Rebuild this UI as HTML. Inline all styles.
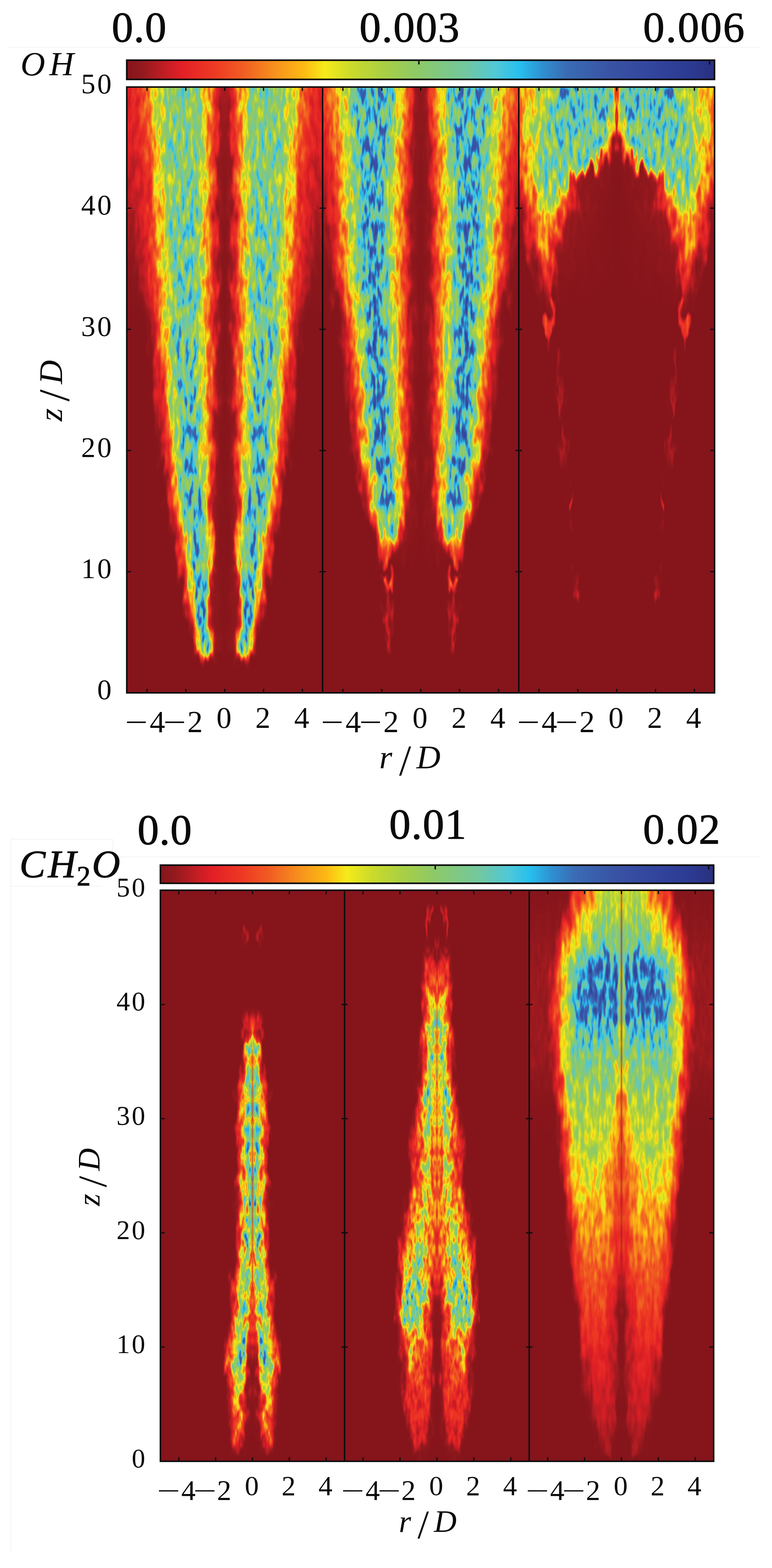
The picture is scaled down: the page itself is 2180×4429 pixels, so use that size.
<!DOCTYPE html>
<html lang="en"><head><meta charset="utf-8"><title>OH and CH2O contours</title>
<style>html,body{margin:0;padding:0;background:#fff}body{width:2180px;height:4429px;overflow:hidden}svg{display:block}text{font-family:"Liberation Serif","DejaVu Serif",serif;fill:#0a0a0a}.cb{stroke:#0a0a0a;stroke-width:1.6px}.cb{font-size:121px}.tk{font-size:80px}.it{font-style:italic}</style></head><body>
<svg width="2180" height="4429" viewBox="0 0 2180 4429">
<defs>
<linearGradient id="cbg" x1="0" x2="1" y1="0" y2="0"><stop offset="0.000" stop-color="#85151b"/><stop offset="0.025" stop-color="#92191e"/><stop offset="0.055" stop-color="#b61d23"/><stop offset="0.093" stop-color="#e21f26"/><stop offset="0.150" stop-color="#ee3a24"/><stop offset="0.194" stop-color="#f05a22"/><stop offset="0.255" stop-color="#f7941d"/><stop offset="0.300" stop-color="#fdb913"/><stop offset="0.337" stop-color="#f5eb1a"/><stop offset="0.382" stop-color="#cbdb2a"/><stop offset="0.439" stop-color="#a8cf45"/><stop offset="0.496" stop-color="#8dc968"/><stop offset="0.577" stop-color="#72c8a0"/><stop offset="0.630" stop-color="#4fc8d8"/><stop offset="0.667" stop-color="#27c0ee"/><stop offset="0.708" stop-color="#2f8fd0"/><stop offset="0.748" stop-color="#3a6cb5"/><stop offset="0.822" stop-color="#3953a4"/><stop offset="0.903" stop-color="#32439c"/><stop offset="0.965" stop-color="#2b3990"/><stop offset="1.000" stop-color="#2a2f7e"/></linearGradient>
<filter id="sb" x="-300%" width="700%" y="-5%" height="110%"><feGaussianBlur stdDeviation="1.6 14"/></filter>
<linearGradient id="lga" gradientUnits="userSpaceOnUse" x1="80.0" x2="522.4" y1="0" y2="0" spreadMethod="reflect"/>
<filter id="fa" filterUnits="userSpaceOnUse" x="-80" y="-80" width="713" height="1871" color-interpolation-filters="sRGB"><feGaussianBlur in="SourceGraphic" stdDeviation="4 12" result="F"/><feTurbulence type="fractalNoise" baseFrequency="0.05 0.013" numOctaves="2" seed="23" result="U"/><feColorMatrix in="U" type="matrix" values="0.3 0 0 0 0.35  0 1 0 0 0  0 0 1 0 0  0 0 0 0 1" result="V"/><feDisplacementMap in="F" in2="V" scale="120" xChannelSelector="R" yChannelSelector="G" result="D"/><feTurbulence type="fractalNoise" baseFrequency="0.085 0.021" numOctaves="2" seed="3" result="T"/><feColorMatrix in="T" type="matrix" values="2.4 0 0 0 -0.7  2.4 0 0 0 -0.7  2.4 0 0 0 -0.7  0 0 0 0 1" result="N"/><feComposite in="D" in2="N" operator="arithmetic" k1="0.55" k2="0.725" k3="0" k4="0" result="G"/><feComponentTransfer in="G"><feFuncR type="table" tableValues="0.522 0.565 0.655 0.754 0.850 0.897 0.915 0.932 0.937 0.941 0.950 0.959 0.969 0.980 0.991 0.976 0.948 0.870 0.794 0.742 0.691 0.644 0.605 0.565 0.534 0.506 0.478 0.450 0.399 0.343 0.275 0.184 0.164 0.180 0.201 0.224 0.226 0.225 0.224 0.221 0.214 0.206 0.199 0.191 0.181 0.172 0.167 0.165"/><feFuncG type="table" tableValues="0.082 0.096 0.107 0.116 0.120 0.146 0.186 0.225 0.285 0.346 0.423 0.502 0.581 0.650 0.719 0.827 0.917 0.887 0.858 0.840 0.823 0.809 0.800 0.791 0.788 0.786 0.785 0.784 0.784 0.784 0.777 0.759 0.688 0.588 0.508 0.435 0.400 0.372 0.343 0.319 0.303 0.286 0.270 0.255 0.242 0.228 0.208 0.184"/><feFuncB type="table" tableValues="0.106 0.116 0.129 0.140 0.147 0.147 0.144 0.141 0.138 0.134 0.127 0.120 0.113 0.095 0.076 0.089 0.107 0.136 0.167 0.206 0.246 0.289 0.341 0.392 0.448 0.505 0.563 0.621 0.705 0.793 0.866 0.916 0.894 0.833 0.775 0.719 0.694 0.674 0.655 0.640 0.632 0.624 0.615 0.603 0.587 0.570 0.537 0.494"/></feComponentTransfer></filter>
<clipPath id="ca"><rect x="276.0" y="0" width="277.5" height="1711.2"/></clipPath>
<linearGradient id="a0" href="#lga"><stop offset="0" stop-color="#000000"/><stop offset="0.099" stop-color="#010101"/><stop offset="0.113" stop-color="#0b0b0b"/><stop offset="0.121" stop-color="#141414"/><stop offset="0.129" stop-color="#141414"/><stop offset="0.138" stop-color="#0b0b0b"/><stop offset="0.151" stop-color="#040404"/><stop offset="0.17" stop-color="#000000"/><stop offset="1" stop-color="#000000"/></linearGradient>
<linearGradient id="a1" href="#lga"><stop offset="0" stop-color="#000000"/><stop offset="0.089" stop-color="#080808"/><stop offset="0.11" stop-color="#575757"/><stop offset="0.121" stop-color="#a3a3a3"/><stop offset="0.132" stop-color="#a3a3a3"/><stop offset="0.146" stop-color="#575757"/><stop offset="0.162" stop-color="#1c1c1c"/><stop offset="0.182" stop-color="#000000"/><stop offset="1" stop-color="#000000"/></linearGradient>
<linearGradient id="a2" href="#lga"><stop offset="0" stop-color="#000000"/><stop offset="0.075" stop-color="#080808"/><stop offset="0.1" stop-color="#575757"/><stop offset="0.116" stop-color="#b2b2b2"/><stop offset="0.14" stop-color="#b2b2b2"/><stop offset="0.163" stop-color="#575757"/><stop offset="0.181" stop-color="#1c1c1c"/><stop offset="0.206" stop-color="#000000"/><stop offset="1" stop-color="#000000"/></linearGradient>
<linearGradient id="a3" href="#lga"><stop offset="0" stop-color="#000000"/><stop offset="0.08" stop-color="#080808"/><stop offset="0.107" stop-color="#575757"/><stop offset="0.126" stop-color="#b1b1b1"/><stop offset="0.153" stop-color="#b1b1b1"/><stop offset="0.176" stop-color="#575757"/><stop offset="0.197" stop-color="#1c1c1c"/><stop offset="0.225" stop-color="#000000"/><stop offset="1" stop-color="#000000"/></linearGradient>
<linearGradient id="a4" href="#lga"><stop offset="0" stop-color="#000000"/><stop offset="0.084" stop-color="#080808"/><stop offset="0.114" stop-color="#575757"/><stop offset="0.137" stop-color="#afafaf"/><stop offset="0.166" stop-color="#afafaf"/><stop offset="0.19" stop-color="#575757"/><stop offset="0.214" stop-color="#1c1c1c"/><stop offset="0.243" stop-color="#000000"/><stop offset="1" stop-color="#000000"/></linearGradient>
<linearGradient id="a5" href="#lga"><stop offset="0" stop-color="#000000"/><stop offset="0.09" stop-color="#080808"/><stop offset="0.12" stop-color="#575757"/><stop offset="0.145" stop-color="#adadad"/><stop offset="0.177" stop-color="#adadad"/><stop offset="0.203" stop-color="#575757"/><stop offset="0.228" stop-color="#1c1c1c"/><stop offset="0.259" stop-color="#000000"/><stop offset="1" stop-color="#000000"/></linearGradient>
<linearGradient id="a6" href="#lga"><stop offset="0" stop-color="#000000"/><stop offset="0.097" stop-color="#080808"/><stop offset="0.123" stop-color="#575757"/><stop offset="0.148" stop-color="#adadad"/><stop offset="0.184" stop-color="#adadad"/><stop offset="0.214" stop-color="#575757"/><stop offset="0.239" stop-color="#1c1c1c"/><stop offset="0.27" stop-color="#000000"/><stop offset="1" stop-color="#000000"/></linearGradient>
<linearGradient id="a7" href="#lga"><stop offset="0" stop-color="#000000"/><stop offset="0.083" stop-color="#080808"/><stop offset="0.111" stop-color="#575757"/><stop offset="0.148" stop-color="#ababab"/><stop offset="0.192" stop-color="#ababab"/><stop offset="0.224" stop-color="#575757"/><stop offset="0.251" stop-color="#1c1c1c"/><stop offset="0.285" stop-color="#000000"/><stop offset="1" stop-color="#000000"/></linearGradient>
<linearGradient id="a8" href="#lga"><stop offset="0" stop-color="#000000"/><stop offset="0.058" stop-color="#080808"/><stop offset="0.089" stop-color="#575757"/><stop offset="0.145" stop-color="#a8a8a8"/><stop offset="0.202" stop-color="#a8a8a8"/><stop offset="0.233" stop-color="#575757"/><stop offset="0.265" stop-color="#1c1c1c"/><stop offset="0.303" stop-color="#000000"/><stop offset="1" stop-color="#000000"/></linearGradient>
<linearGradient id="a9" href="#lga"><stop offset="0" stop-color="#000000"/><stop offset="0.066" stop-color="#080808"/><stop offset="0.097" stop-color="#575757"/><stop offset="0.15" stop-color="#a8a8a8"/><stop offset="0.209" stop-color="#a8a8a8"/><stop offset="0.244" stop-color="#575757"/><stop offset="0.278" stop-color="#1c1c1c"/><stop offset="0.316" stop-color="#000000"/><stop offset="1" stop-color="#000000"/></linearGradient>
<linearGradient id="a10" href="#lga"><stop offset="0" stop-color="#000000"/><stop offset="0.073" stop-color="#080808"/><stop offset="0.105" stop-color="#575757"/><stop offset="0.155" stop-color="#a8a8a8"/><stop offset="0.217" stop-color="#a8a8a8"/><stop offset="0.254" stop-color="#575757"/><stop offset="0.291" stop-color="#1c1c1c"/><stop offset="0.329" stop-color="#000000"/><stop offset="1" stop-color="#000000"/></linearGradient>
<linearGradient id="a11" href="#lga"><stop offset="0" stop-color="#000000"/><stop offset="0.074" stop-color="#080808"/><stop offset="0.109" stop-color="#575757"/><stop offset="0.16" stop-color="#a7a7a7"/><stop offset="0.225" stop-color="#a7a7a7"/><stop offset="0.265" stop-color="#575757"/><stop offset="0.304" stop-color="#1c1c1c"/><stop offset="0.343" stop-color="#000000"/><stop offset="1" stop-color="#000000"/></linearGradient>
<linearGradient id="a12" href="#lga"><stop offset="0" stop-color="#000000"/><stop offset="0.072" stop-color="#080808"/><stop offset="0.112" stop-color="#575757"/><stop offset="0.165" stop-color="#a6a6a6"/><stop offset="0.233" stop-color="#a6a6a6"/><stop offset="0.276" stop-color="#575757"/><stop offset="0.317" stop-color="#1c1c1c"/><stop offset="0.357" stop-color="#000000"/><stop offset="1" stop-color="#000000"/></linearGradient>
<linearGradient id="a13" href="#lga"><stop offset="0" stop-color="#000000"/><stop offset="0.071" stop-color="#080808"/><stop offset="0.115" stop-color="#575757"/><stop offset="0.17" stop-color="#a5a5a5"/><stop offset="0.241" stop-color="#a5a5a5"/><stop offset="0.288" stop-color="#575757"/><stop offset="0.33" stop-color="#1c1c1c"/><stop offset="0.372" stop-color="#000000"/><stop offset="1" stop-color="#000000"/></linearGradient>
<linearGradient id="a14" href="#lga"><stop offset="0" stop-color="#000000"/><stop offset="0.069" stop-color="#080808"/><stop offset="0.118" stop-color="#575757"/><stop offset="0.175" stop-color="#a3a3a3"/><stop offset="0.249" stop-color="#a3a3a3"/><stop offset="0.299" stop-color="#575757"/><stop offset="0.342" stop-color="#1c1c1c"/><stop offset="0.386" stop-color="#000000"/><stop offset="1" stop-color="#000000"/></linearGradient>
<linearGradient id="a15" href="#lga"><stop offset="0" stop-color="#000000"/><stop offset="0.067" stop-color="#080808"/><stop offset="0.12" stop-color="#575757"/><stop offset="0.177" stop-color="#a2a2a2"/><stop offset="0.255" stop-color="#a2a2a2"/><stop offset="0.306" stop-color="#575757"/><stop offset="0.35" stop-color="#1c1c1c"/><stop offset="0.396" stop-color="#000000"/><stop offset="1" stop-color="#000000"/></linearGradient>
<linearGradient id="a16" href="#lga"><stop offset="0" stop-color="#000000"/><stop offset="0.065" stop-color="#080808"/><stop offset="0.122" stop-color="#575757"/><stop offset="0.178" stop-color="#a0a0a0"/><stop offset="0.26" stop-color="#a0a0a0"/><stop offset="0.312" stop-color="#575757"/><stop offset="0.358" stop-color="#1c1c1c"/><stop offset="0.405" stop-color="#000000"/><stop offset="1" stop-color="#000000"/></linearGradient>
<linearGradient id="a17" href="#lga"><stop offset="0" stop-color="#000000"/><stop offset="0.063" stop-color="#080808"/><stop offset="0.124" stop-color="#575757"/><stop offset="0.18" stop-color="#9f9f9f"/><stop offset="0.266" stop-color="#9f9f9f"/><stop offset="0.319" stop-color="#575757"/><stop offset="0.365" stop-color="#1c1c1c"/><stop offset="0.414" stop-color="#000000"/><stop offset="1" stop-color="#000000"/></linearGradient>
<linearGradient id="a18" href="#lga"><stop offset="0" stop-color="#000000"/><stop offset="0.062" stop-color="#080808"/><stop offset="0.126" stop-color="#575757"/><stop offset="0.182" stop-color="#9d9d9d"/><stop offset="0.272" stop-color="#9d9d9d"/><stop offset="0.325" stop-color="#575757"/><stop offset="0.372" stop-color="#1c1c1c"/><stop offset="0.423" stop-color="#000000"/><stop offset="1" stop-color="#000000"/></linearGradient>
<linearGradient id="a19" href="#lga"><stop offset="0" stop-color="#000000"/><stop offset="0.06" stop-color="#080808"/><stop offset="0.128" stop-color="#575757"/><stop offset="0.184" stop-color="#9c9c9c"/><stop offset="0.277" stop-color="#9c9c9c"/><stop offset="0.332" stop-color="#575757"/><stop offset="0.38" stop-color="#1c1c1c"/><stop offset="0.433" stop-color="#000000"/><stop offset="1" stop-color="#000000"/></linearGradient>
<linearGradient id="a20" href="#lga"><stop offset="0" stop-color="#000000"/><stop offset="0.058" stop-color="#080808"/><stop offset="0.13" stop-color="#575757"/><stop offset="0.186" stop-color="#9a9a9a"/><stop offset="0.283" stop-color="#9a9a9a"/><stop offset="0.338" stop-color="#575757"/><stop offset="0.387" stop-color="#1c1c1c"/><stop offset="0.442" stop-color="#000000"/><stop offset="1" stop-color="#000000"/></linearGradient>
<linearGradient id="a21" href="#lga"><stop offset="0" stop-color="#000000"/><stop offset="0.056" stop-color="#080808"/><stop offset="0.131" stop-color="#575757"/><stop offset="0.188" stop-color="#999999"/><stop offset="0.288" stop-color="#999999"/><stop offset="0.344" stop-color="#575757"/><stop offset="0.394" stop-color="#1c1c1c"/><stop offset="0.451" stop-color="#000000"/><stop offset="1" stop-color="#000000"/></linearGradient>
<linearGradient id="a22" href="#lga"><stop offset="0" stop-color="#000000"/><stop offset="0.054" stop-color="#080808"/><stop offset="0.132" stop-color="#575757"/><stop offset="0.188" stop-color="#989898"/><stop offset="0.293" stop-color="#989898"/><stop offset="0.349" stop-color="#575757"/><stop offset="0.4" stop-color="#1c1c1c"/><stop offset="0.457" stop-color="#000000"/><stop offset="1" stop-color="#000000"/></linearGradient>
<linearGradient id="a23" href="#lga"><stop offset="0" stop-color="#000000"/><stop offset="0.052" stop-color="#080808"/><stop offset="0.133" stop-color="#575757"/><stop offset="0.188" stop-color="#979797"/><stop offset="0.297" stop-color="#979797"/><stop offset="0.353" stop-color="#575757"/><stop offset="0.405" stop-color="#1c1c1c"/><stop offset="0.464" stop-color="#000000"/><stop offset="1" stop-color="#000000"/></linearGradient>
<linearGradient id="a24" href="#lga"><stop offset="0" stop-color="#000000"/><stop offset="0.051" stop-color="#080808"/><stop offset="0.134" stop-color="#575757"/><stop offset="0.188" stop-color="#969696"/><stop offset="0.302" stop-color="#969696"/><stop offset="0.358" stop-color="#575757"/><stop offset="0.411" stop-color="#1c1c1c"/><stop offset="0.47" stop-color="#000000"/><stop offset="1" stop-color="#000000"/></linearGradient>
<linearGradient id="a25" href="#lga"><stop offset="0" stop-color="#000000"/><stop offset="0.049" stop-color="#080808"/><stop offset="0.135" stop-color="#575757"/><stop offset="0.188" stop-color="#949494"/><stop offset="0.306" stop-color="#949494"/><stop offset="0.363" stop-color="#575757"/><stop offset="0.416" stop-color="#1c1c1c"/><stop offset="0.476" stop-color="#000000"/><stop offset="1" stop-color="#000000"/></linearGradient>
<linearGradient id="a26" href="#lga"><stop offset="0" stop-color="#000000"/><stop offset="0.047" stop-color="#080808"/><stop offset="0.136" stop-color="#575757"/><stop offset="0.188" stop-color="#939393"/><stop offset="0.311" stop-color="#939393"/><stop offset="0.367" stop-color="#575757"/><stop offset="0.422" stop-color="#1c1c1c"/><stop offset="0.483" stop-color="#000000"/><stop offset="1" stop-color="#000000"/></linearGradient>
<linearGradient id="a27" href="#lga"><stop offset="0" stop-color="#000000"/><stop offset="0.045" stop-color="#080808"/><stop offset="0.137" stop-color="#575757"/><stop offset="0.188" stop-color="#929292"/><stop offset="0.316" stop-color="#929292"/><stop offset="0.372" stop-color="#575757"/><stop offset="0.427" stop-color="#1c1c1c"/><stop offset="0.489" stop-color="#000000"/><stop offset="1" stop-color="#000000"/></linearGradient>
<linearGradient id="a28" href="#lga"><stop offset="0" stop-color="#000000"/><stop offset="0.044" stop-color="#080808"/><stop offset="0.137" stop-color="#575757"/><stop offset="0.188" stop-color="#919191"/><stop offset="0.319" stop-color="#919191"/><stop offset="0.376" stop-color="#575757"/><stop offset="0.434" stop-color="#1c1c1c"/><stop offset="0.5" stop-color="#000000"/><stop offset="1" stop-color="#000000"/></linearGradient>
<linearGradient id="a29" href="#lga"><stop offset="0" stop-color="#000000"/><stop offset="0.044" stop-color="#080808"/><stop offset="0.135" stop-color="#575757"/><stop offset="0.188" stop-color="#909090"/><stop offset="0.321" stop-color="#909090"/><stop offset="0.379" stop-color="#575757"/><stop offset="0.442" stop-color="#1c1c1c"/><stop offset="0.521" stop-color="#010101"/><stop offset="1" stop-color="#010101"/></linearGradient>
<linearGradient id="a30" href="#lga"><stop offset="0" stop-color="#000000"/><stop offset="0.044" stop-color="#080808"/><stop offset="0.134" stop-color="#575757"/><stop offset="0.188" stop-color="#8e8e8e"/><stop offset="0.322" stop-color="#8e8e8e"/><stop offset="0.382" stop-color="#575757"/><stop offset="0.45" stop-color="#1c1c1c"/><stop offset="0.542" stop-color="#020202"/><stop offset="1" stop-color="#020202"/></linearGradient>
<linearGradient id="a31" href="#lga"><stop offset="0" stop-color="#000000"/><stop offset="0.044" stop-color="#080808"/><stop offset="0.132" stop-color="#575757"/><stop offset="0.188" stop-color="#8d8d8d"/><stop offset="0.324" stop-color="#8d8d8d"/><stop offset="0.386" stop-color="#575757"/><stop offset="0.458" stop-color="#1c1c1c"/><stop offset="0.562" stop-color="#020202"/><stop offset="1" stop-color="#020202"/></linearGradient>
<linearGradient id="a32" href="#lga"><stop offset="0" stop-color="#000000"/><stop offset="0.043" stop-color="#080808"/><stop offset="0.131" stop-color="#575757"/><stop offset="0.187" stop-color="#8c8c8c"/><stop offset="0.326" stop-color="#8c8c8c"/><stop offset="0.389" stop-color="#575757"/><stop offset="0.464" stop-color="#1c1c1c"/><stop offset="0.577" stop-color="#030303"/><stop offset="1" stop-color="#030303"/></linearGradient>
<linearGradient id="a33" href="#lga"><stop offset="0" stop-color="#000000"/><stop offset="0.043" stop-color="#080808"/><stop offset="0.13" stop-color="#565656"/><stop offset="0.186" stop-color="#8b8b8b"/><stop offset="0.327" stop-color="#8b8b8b"/><stop offset="0.392" stop-color="#565656"/><stop offset="0.469" stop-color="#1c1c1c"/><stop offset="0.584" stop-color="#040404"/><stop offset="1" stop-color="#040404"/></linearGradient>
<linearGradient id="a34" href="#lga"><stop offset="0" stop-color="#010101"/><stop offset="0.042" stop-color="#080808"/><stop offset="0.129" stop-color="#565656"/><stop offset="0.186" stop-color="#8b8b8b"/><stop offset="0.329" stop-color="#8b8b8b"/><stop offset="0.395" stop-color="#565656"/><stop offset="0.473" stop-color="#1c1c1c"/><stop offset="0.59" stop-color="#060606"/><stop offset="1" stop-color="#060606"/></linearGradient>
<linearGradient id="a35" href="#lga"><stop offset="0" stop-color="#010101"/><stop offset="0.041" stop-color="#080808"/><stop offset="0.129" stop-color="#555555"/><stop offset="0.185" stop-color="#8a8a8a"/><stop offset="0.33" stop-color="#8a8a8a"/><stop offset="0.398" stop-color="#555555"/><stop offset="0.478" stop-color="#1c1c1c"/><stop offset="0.596" stop-color="#070707"/><stop offset="1" stop-color="#070707"/></linearGradient>
<linearGradient id="a36" href="#lga"><stop offset="0" stop-color="#010101"/><stop offset="0.04" stop-color="#080808"/><stop offset="0.128" stop-color="#555555"/><stop offset="0.184" stop-color="#8a8a8a"/><stop offset="0.332" stop-color="#8a8a8a"/><stop offset="0.401" stop-color="#555555"/><stop offset="0.483" stop-color="#1c1c1c"/><stop offset="0.602" stop-color="#080808"/><stop offset="1" stop-color="#080808"/></linearGradient>
<linearGradient id="a37" href="#lga"><stop offset="0" stop-color="#020202"/><stop offset="0.04" stop-color="#080808"/><stop offset="0.127" stop-color="#555555"/><stop offset="0.183" stop-color="#898989"/><stop offset="0.333" stop-color="#898989"/><stop offset="0.404" stop-color="#555555"/><stop offset="0.487" stop-color="#1c1c1c"/><stop offset="0.608" stop-color="#090909"/><stop offset="1" stop-color="#090909"/></linearGradient>
<linearGradient id="a38" href="#lga"><stop offset="0" stop-color="#020202"/><stop offset="0.039" stop-color="#080808"/><stop offset="0.126" stop-color="#545454"/><stop offset="0.183" stop-color="#888888"/><stop offset="0.335" stop-color="#888888"/><stop offset="0.407" stop-color="#545454"/><stop offset="0.492" stop-color="#1c1c1c"/><stop offset="0.614" stop-color="#0b0b0b"/><stop offset="1" stop-color="#0b0b0b"/></linearGradient>
<linearGradient id="a39" href="#lga"><stop offset="0" stop-color="#020202"/><stop offset="0.038" stop-color="#080808"/><stop offset="0.126" stop-color="#545454"/><stop offset="0.182" stop-color="#888888"/><stop offset="0.336" stop-color="#888888"/><stop offset="0.41" stop-color="#545454"/><stop offset="0.496" stop-color="#1c1c1c"/><stop offset="0.62" stop-color="#0c0c0c"/><stop offset="1" stop-color="#0c0c0c"/></linearGradient>
<linearGradient id="a40" href="#lga"><stop offset="0" stop-color="#030303"/><stop offset="0.037" stop-color="#080808"/><stop offset="0.125" stop-color="#545454"/><stop offset="0.181" stop-color="#878787"/><stop offset="0.339" stop-color="#878787"/><stop offset="0.414" stop-color="#545454"/><stop offset="0.502" stop-color="#1c1c1c"/><stop offset="0.628" stop-color="#0d0d0d"/><stop offset="1" stop-color="#0d0d0d"/></linearGradient>
<linearGradient id="a41" href="#lga"><stop offset="0" stop-color="#040404"/><stop offset="0.035" stop-color="#080808"/><stop offset="0.124" stop-color="#535353"/><stop offset="0.18" stop-color="#868686"/><stop offset="0.345" stop-color="#868686"/><stop offset="0.42" stop-color="#535353"/><stop offset="0.51" stop-color="#1c1c1c"/><stop offset="0.641" stop-color="#0e0e0e"/><stop offset="1" stop-color="#0e0e0e"/></linearGradient>
<linearGradient id="a42" href="#lga"><stop offset="0" stop-color="#050505"/><stop offset="0.032" stop-color="#080808"/><stop offset="0.123" stop-color="#535353"/><stop offset="0.179" stop-color="#868686"/><stop offset="0.352" stop-color="#868686"/><stop offset="0.427" stop-color="#535353"/><stop offset="0.518" stop-color="#1c1c1c"/><stop offset="0.654" stop-color="#0f0f0f"/><stop offset="1" stop-color="#0f0f0f"/></linearGradient>
<linearGradient id="a43" href="#lga"><stop offset="0" stop-color="#060606"/><stop offset="0.03" stop-color="#080808"/><stop offset="0.122" stop-color="#525252"/><stop offset="0.179" stop-color="#858585"/><stop offset="0.358" stop-color="#858585"/><stop offset="0.433" stop-color="#525252"/><stop offset="0.526" stop-color="#1c1c1c"/><stop offset="0.667" stop-color="#101010"/><stop offset="1" stop-color="#101010"/></linearGradient>
<linearGradient id="a44" href="#lga"><stop offset="0" stop-color="#070707"/><stop offset="0.027" stop-color="#080808"/><stop offset="0.122" stop-color="#525252"/><stop offset="0.178" stop-color="#848484"/><stop offset="0.365" stop-color="#848484"/><stop offset="0.44" stop-color="#525252"/><stop offset="0.534" stop-color="#1c1c1c"/><stop offset="0.68" stop-color="#111111"/><stop offset="1" stop-color="#111111"/></linearGradient>
<linearGradient id="a45" href="#lga"><stop offset="0" stop-color="#080808"/><stop offset="0.025" stop-color="#080808"/><stop offset="0.121" stop-color="#525252"/><stop offset="0.177" stop-color="#848484"/><stop offset="0.371" stop-color="#848484"/><stop offset="0.446" stop-color="#525252"/><stop offset="0.542" stop-color="#1c1c1c"/><stop offset="0.693" stop-color="#121212"/><stop offset="1" stop-color="#121212"/></linearGradient>
<linearGradient id="a46" href="#lga"><stop offset="0" stop-color="#090909"/><stop offset="0.022" stop-color="#080808"/><stop offset="0.12" stop-color="#515151"/><stop offset="0.176" stop-color="#838383"/><stop offset="0.378" stop-color="#838383"/><stop offset="0.453" stop-color="#515151"/><stop offset="0.55" stop-color="#1c1c1c"/><stop offset="0.706" stop-color="#131313"/><stop offset="1" stop-color="#131313"/></linearGradient>
<linearGradient id="a47" href="#lga"><stop offset="0" stop-color="#0a0a0a"/><stop offset="0.02" stop-color="#080808"/><stop offset="0.119" stop-color="#515151"/><stop offset="0.175" stop-color="#828282"/><stop offset="0.384" stop-color="#828282"/><stop offset="0.459" stop-color="#515151"/><stop offset="0.558" stop-color="#1c1c1c"/><stop offset="0.719" stop-color="#141414"/><stop offset="1" stop-color="#141414"/></linearGradient>
<linearGradient id="a48" href="#lga"><stop offset="0" stop-color="#0a0a0a"/><stop offset="0.019" stop-color="#080808"/><stop offset="0.119" stop-color="#515151"/><stop offset="0.175" stop-color="#828282"/><stop offset="0.388" stop-color="#828282"/><stop offset="0.463" stop-color="#515151"/><stop offset="0.562" stop-color="#1c1c1c"/><stop offset="0.725" stop-color="#141414"/><stop offset="1" stop-color="#141414"/></linearGradient>
<linearGradient id="lgb" gradientUnits="userSpaceOnUse" x1="80.0" x2="523.2" y1="0" y2="0" spreadMethod="reflect"/>
<filter id="fb" filterUnits="userSpaceOnUse" x="-80" y="-80" width="714" height="1871" color-interpolation-filters="sRGB"><feGaussianBlur in="SourceGraphic" stdDeviation="4 12" result="F"/><feTurbulence type="fractalNoise" baseFrequency="0.05 0.013" numOctaves="2" seed="31" result="U"/><feColorMatrix in="U" type="matrix" values="0.3 0 0 0 0.35  0 1 0 0 0  0 0 1 0 0  0 0 0 0 1" result="V"/><feDisplacementMap in="F" in2="V" scale="120" xChannelSelector="R" yChannelSelector="G" result="D"/><feTurbulence type="fractalNoise" baseFrequency="0.085 0.021" numOctaves="2" seed="11" result="T"/><feColorMatrix in="T" type="matrix" values="2.4 0 0 0 -0.7  2.4 0 0 0 -0.7  2.4 0 0 0 -0.7  0 0 0 0 1" result="N"/><feComposite in="D" in2="N" operator="arithmetic" k1="0.55" k2="0.725" k3="0" k4="0" result="G"/><feComponentTransfer in="G"><feFuncR type="table" tableValues="0.522 0.565 0.655 0.754 0.850 0.897 0.915 0.932 0.937 0.941 0.950 0.959 0.969 0.980 0.991 0.976 0.948 0.870 0.794 0.742 0.691 0.644 0.605 0.565 0.534 0.506 0.478 0.450 0.399 0.343 0.275 0.184 0.164 0.180 0.201 0.224 0.226 0.225 0.224 0.221 0.214 0.206 0.199 0.191 0.181 0.172 0.167 0.165"/><feFuncG type="table" tableValues="0.082 0.096 0.107 0.116 0.120 0.146 0.186 0.225 0.285 0.346 0.423 0.502 0.581 0.650 0.719 0.827 0.917 0.887 0.858 0.840 0.823 0.809 0.800 0.791 0.788 0.786 0.785 0.784 0.784 0.784 0.777 0.759 0.688 0.588 0.508 0.435 0.400 0.372 0.343 0.319 0.303 0.286 0.270 0.255 0.242 0.228 0.208 0.184"/><feFuncB type="table" tableValues="0.106 0.116 0.129 0.140 0.147 0.147 0.144 0.141 0.138 0.134 0.127 0.120 0.113 0.095 0.076 0.089 0.107 0.136 0.167 0.206 0.246 0.289 0.341 0.392 0.448 0.505 0.563 0.621 0.705 0.793 0.866 0.916 0.894 0.833 0.775 0.719 0.694 0.674 0.655 0.640 0.632 0.624 0.615 0.603 0.587 0.570 0.537 0.494"/></feComponentTransfer></filter>
<clipPath id="cb"><rect x="276.5" y="0" width="278.0" height="1711.2"/></clipPath>
<linearGradient id="b0" href="#lgb"><stop offset="0" stop-color="#000000"/><stop offset="0.158" stop-color="#040404"/><stop offset="0.185" stop-color="#1c1c1c"/><stop offset="0.205" stop-color="#2d2d2d"/><stop offset="0.225" stop-color="#2d2d2d"/><stop offset="0.24" stop-color="#1c1c1c"/><stop offset="0.259" stop-color="#0d0d0d"/><stop offset="0.279" stop-color="#000000"/><stop offset="1" stop-color="#000000"/></linearGradient>
<linearGradient id="b1" href="#lgb"><stop offset="0" stop-color="#000000"/><stop offset="0.138" stop-color="#080808"/><stop offset="0.175" stop-color="#2f2f2f"/><stop offset="0.2" stop-color="#4c4c4c"/><stop offset="0.225" stop-color="#4c4c4c"/><stop offset="0.25" stop-color="#2f2f2f"/><stop offset="0.275" stop-color="#171717"/><stop offset="0.3" stop-color="#000000"/><stop offset="1" stop-color="#000000"/></linearGradient>
<linearGradient id="b2" href="#lgb"><stop offset="0" stop-color="#000000"/><stop offset="0.113" stop-color="#080808"/><stop offset="0.163" stop-color="#575757"/><stop offset="0.188" stop-color="#8c8c8c"/><stop offset="0.225" stop-color="#8c8c8c"/><stop offset="0.256" stop-color="#575757"/><stop offset="0.287" stop-color="#1c1c1c"/><stop offset="0.325" stop-color="#000000"/><stop offset="1" stop-color="#000000"/></linearGradient>
<linearGradient id="b3" href="#lgb"><stop offset="0" stop-color="#000000"/><stop offset="0.096" stop-color="#080808"/><stop offset="0.149" stop-color="#575757"/><stop offset="0.192" stop-color="#9c9c9c"/><stop offset="0.237" stop-color="#9c9c9c"/><stop offset="0.277" stop-color="#575757"/><stop offset="0.312" stop-color="#1c1c1c"/><stop offset="0.35" stop-color="#000000"/><stop offset="1" stop-color="#000000"/></linearGradient>
<linearGradient id="b4" href="#lgb"><stop offset="0" stop-color="#000000"/><stop offset="0.084" stop-color="#080808"/><stop offset="0.139" stop-color="#575757"/><stop offset="0.196" stop-color="#a6a6a6"/><stop offset="0.248" stop-color="#a6a6a6"/><stop offset="0.293" stop-color="#575757"/><stop offset="0.333" stop-color="#1c1c1c"/><stop offset="0.37" stop-color="#000000"/><stop offset="1" stop-color="#000000"/></linearGradient>
<linearGradient id="b5" href="#lgb"><stop offset="0" stop-color="#000000"/><stop offset="0.076" stop-color="#080808"/><stop offset="0.132" stop-color="#575757"/><stop offset="0.2" stop-color="#adadad"/><stop offset="0.255" stop-color="#adadad"/><stop offset="0.305" stop-color="#575757"/><stop offset="0.348" stop-color="#1c1c1c"/><stop offset="0.386" stop-color="#000000"/><stop offset="1" stop-color="#000000"/></linearGradient>
<linearGradient id="b6" href="#lgb"><stop offset="0" stop-color="#000000"/><stop offset="0.073" stop-color="#080808"/><stop offset="0.135" stop-color="#575757"/><stop offset="0.205" stop-color="#afafaf"/><stop offset="0.263" stop-color="#afafaf"/><stop offset="0.318" stop-color="#575757"/><stop offset="0.362" stop-color="#1c1c1c"/><stop offset="0.401" stop-color="#000000"/><stop offset="1" stop-color="#000000"/></linearGradient>
<linearGradient id="b7" href="#lgb"><stop offset="0" stop-color="#000000"/><stop offset="0.072" stop-color="#080808"/><stop offset="0.138" stop-color="#575757"/><stop offset="0.21" stop-color="#b0b0b0"/><stop offset="0.27" stop-color="#b0b0b0"/><stop offset="0.331" stop-color="#575757"/><stop offset="0.374" stop-color="#1c1c1c"/><stop offset="0.415" stop-color="#000000"/><stop offset="1" stop-color="#000000"/></linearGradient>
<linearGradient id="b8" href="#lgb"><stop offset="0" stop-color="#000000"/><stop offset="0.07" stop-color="#080808"/><stop offset="0.142" stop-color="#575757"/><stop offset="0.216" stop-color="#b2b2b2"/><stop offset="0.278" stop-color="#b2b2b2"/><stop offset="0.344" stop-color="#575757"/><stop offset="0.387" stop-color="#1c1c1c"/><stop offset="0.43" stop-color="#000000"/><stop offset="1" stop-color="#000000"/></linearGradient>
<linearGradient id="b9" href="#lgb"><stop offset="0" stop-color="#000000"/><stop offset="0.068" stop-color="#080808"/><stop offset="0.145" stop-color="#575757"/><stop offset="0.222" stop-color="#b2b2b2"/><stop offset="0.284" stop-color="#b2b2b2"/><stop offset="0.353" stop-color="#575757"/><stop offset="0.397" stop-color="#1c1c1c"/><stop offset="0.442" stop-color="#000000"/><stop offset="1" stop-color="#000000"/></linearGradient>
<linearGradient id="b10" href="#lgb"><stop offset="0" stop-color="#000000"/><stop offset="0.066" stop-color="#080808"/><stop offset="0.147" stop-color="#575757"/><stop offset="0.227" stop-color="#b2b2b2"/><stop offset="0.29" stop-color="#b2b2b2"/><stop offset="0.358" stop-color="#575757"/><stop offset="0.405" stop-color="#1c1c1c"/><stop offset="0.451" stop-color="#000000"/><stop offset="1" stop-color="#000000"/></linearGradient>
<linearGradient id="b11" href="#lgb"><stop offset="0" stop-color="#000000"/><stop offset="0.064" stop-color="#080808"/><stop offset="0.148" stop-color="#575757"/><stop offset="0.233" stop-color="#b2b2b2"/><stop offset="0.295" stop-color="#b2b2b2"/><stop offset="0.364" stop-color="#575757"/><stop offset="0.412" stop-color="#1c1c1c"/><stop offset="0.46" stop-color="#000000"/><stop offset="1" stop-color="#000000"/></linearGradient>
<linearGradient id="b12" href="#lgb"><stop offset="0" stop-color="#000000"/><stop offset="0.062" stop-color="#080808"/><stop offset="0.15" stop-color="#575757"/><stop offset="0.238" stop-color="#b2b2b2"/><stop offset="0.3" stop-color="#b2b2b2"/><stop offset="0.369" stop-color="#575757"/><stop offset="0.419" stop-color="#1c1c1c"/><stop offset="0.47" stop-color="#000000"/><stop offset="1" stop-color="#000000"/></linearGradient>
<linearGradient id="b13" href="#lgb"><stop offset="0" stop-color="#000000"/><stop offset="0.061" stop-color="#080808"/><stop offset="0.152" stop-color="#575757"/><stop offset="0.24" stop-color="#b2b2b2"/><stop offset="0.304" stop-color="#b2b2b2"/><stop offset="0.374" stop-color="#575757"/><stop offset="0.426" stop-color="#1c1c1c"/><stop offset="0.478" stop-color="#000000"/><stop offset="1" stop-color="#000000"/></linearGradient>
<linearGradient id="b14" href="#lgb"><stop offset="0" stop-color="#000000"/><stop offset="0.061" stop-color="#080808"/><stop offset="0.154" stop-color="#575757"/><stop offset="0.241" stop-color="#b2b2b2"/><stop offset="0.308" stop-color="#b2b2b2"/><stop offset="0.378" stop-color="#575757"/><stop offset="0.432" stop-color="#1c1c1c"/><stop offset="0.486" stop-color="#000000"/><stop offset="1" stop-color="#000000"/></linearGradient>
<linearGradient id="b15" href="#lgb"><stop offset="0" stop-color="#000000"/><stop offset="0.06" stop-color="#080808"/><stop offset="0.156" stop-color="#575757"/><stop offset="0.243" stop-color="#b2b2b2"/><stop offset="0.311" stop-color="#b2b2b2"/><stop offset="0.383" stop-color="#575757"/><stop offset="0.439" stop-color="#1c1c1c"/><stop offset="0.494" stop-color="#000000"/><stop offset="1" stop-color="#000000"/></linearGradient>
<linearGradient id="b16" href="#lgb"><stop offset="0" stop-color="#000000"/><stop offset="0.059" stop-color="#080808"/><stop offset="0.158" stop-color="#575757"/><stop offset="0.245" stop-color="#b2b2b2"/><stop offset="0.315" stop-color="#b2b2b2"/><stop offset="0.388" stop-color="#575757"/><stop offset="0.445" stop-color="#1c1c1c"/><stop offset="0.503" stop-color="#000000"/><stop offset="1" stop-color="#000000"/></linearGradient>
<linearGradient id="b17" href="#lgb"><stop offset="0" stop-color="#000000"/><stop offset="0.058" stop-color="#080808"/><stop offset="0.159" stop-color="#575757"/><stop offset="0.247" stop-color="#b2b2b2"/><stop offset="0.319" stop-color="#b2b2b2"/><stop offset="0.392" stop-color="#575757"/><stop offset="0.452" stop-color="#1c1c1c"/><stop offset="0.511" stop-color="#000000"/><stop offset="1" stop-color="#000000"/></linearGradient>
<linearGradient id="b18" href="#lgb"><stop offset="0" stop-color="#000000"/><stop offset="0.057" stop-color="#080808"/><stop offset="0.161" stop-color="#575757"/><stop offset="0.249" stop-color="#b2b2b2"/><stop offset="0.322" stop-color="#b2b2b2"/><stop offset="0.397" stop-color="#575757"/><stop offset="0.458" stop-color="#1c1c1c"/><stop offset="0.519" stop-color="#000000"/><stop offset="1" stop-color="#000000"/></linearGradient>
<linearGradient id="b19" href="#lgb"><stop offset="0" stop-color="#000000"/><stop offset="0.056" stop-color="#080808"/><stop offset="0.163" stop-color="#575757"/><stop offset="0.251" stop-color="#b2b2b2"/><stop offset="0.326" stop-color="#b2b2b2"/><stop offset="0.404" stop-color="#575757"/><stop offset="0.467" stop-color="#1c1c1c"/><stop offset="0.53" stop-color="#000000"/><stop offset="1" stop-color="#000000"/></linearGradient>
<linearGradient id="b20" href="#lgb"><stop offset="0" stop-color="#000000"/><stop offset="0.056" stop-color="#080808"/><stop offset="0.165" stop-color="#575757"/><stop offset="0.254" stop-color="#b2b2b2"/><stop offset="0.329" stop-color="#b2b2b2"/><stop offset="0.417" stop-color="#575757"/><stop offset="0.482" stop-color="#1c1c1c"/><stop offset="0.546" stop-color="#000000"/><stop offset="1" stop-color="#000000"/></linearGradient>
<linearGradient id="b21" href="#lgb"><stop offset="0" stop-color="#000000"/><stop offset="0.056" stop-color="#080808"/><stop offset="0.166" stop-color="#575757"/><stop offset="0.258" stop-color="#b1b1b1"/><stop offset="0.333" stop-color="#b1b1b1"/><stop offset="0.43" stop-color="#575757"/><stop offset="0.497" stop-color="#1c1c1c"/><stop offset="0.563" stop-color="#000000"/><stop offset="1" stop-color="#000000"/></linearGradient>
<linearGradient id="b22" href="#lgb"><stop offset="0" stop-color="#000000"/><stop offset="0.056" stop-color="#080808"/><stop offset="0.168" stop-color="#575757"/><stop offset="0.261" stop-color="#b0b0b0"/><stop offset="0.336" stop-color="#b0b0b0"/><stop offset="0.443" stop-color="#575757"/><stop offset="0.511" stop-color="#1c1c1c"/><stop offset="0.579" stop-color="#000000"/><stop offset="1" stop-color="#000000"/></linearGradient>
<linearGradient id="b23" href="#lgb"><stop offset="0" stop-color="#000000"/><stop offset="0.056" stop-color="#080808"/><stop offset="0.168" stop-color="#575757"/><stop offset="0.262" stop-color="#b0b0b0"/><stop offset="0.339" stop-color="#b0b0b0"/><stop offset="0.452" stop-color="#575757"/><stop offset="0.521" stop-color="#1c1c1c"/><stop offset="0.592" stop-color="#000000"/><stop offset="1" stop-color="#000000"/></linearGradient>
<linearGradient id="b24" href="#lgb"><stop offset="0" stop-color="#000000"/><stop offset="0.056" stop-color="#080808"/><stop offset="0.168" stop-color="#575757"/><stop offset="0.26" stop-color="#afafaf"/><stop offset="0.342" stop-color="#afafaf"/><stop offset="0.456" stop-color="#575757"/><stop offset="0.526" stop-color="#1c1c1c"/><stop offset="0.602" stop-color="#010101"/><stop offset="1" stop-color="#010101"/></linearGradient>
<linearGradient id="b25" href="#lgb"><stop offset="0" stop-color="#000000"/><stop offset="0.056" stop-color="#080808"/><stop offset="0.167" stop-color="#575757"/><stop offset="0.259" stop-color="#aeaeae"/><stop offset="0.345" stop-color="#aeaeae"/><stop offset="0.46" stop-color="#575757"/><stop offset="0.53" stop-color="#1c1c1c"/><stop offset="0.611" stop-color="#020202"/><stop offset="1" stop-color="#020202"/></linearGradient>
<linearGradient id="b26" href="#lgb"><stop offset="0" stop-color="#000000"/><stop offset="0.056" stop-color="#080808"/><stop offset="0.166" stop-color="#575757"/><stop offset="0.257" stop-color="#aeaeae"/><stop offset="0.348" stop-color="#aeaeae"/><stop offset="0.464" stop-color="#575757"/><stop offset="0.535" stop-color="#1c1c1c"/><stop offset="0.62" stop-color="#030303"/><stop offset="1" stop-color="#030303"/></linearGradient>
<linearGradient id="b27" href="#lgb"><stop offset="0" stop-color="#000000"/><stop offset="0.056" stop-color="#080808"/><stop offset="0.165" stop-color="#575757"/><stop offset="0.255" stop-color="#adadad"/><stop offset="0.352" stop-color="#adadad"/><stop offset="0.468" stop-color="#575757"/><stop offset="0.54" stop-color="#1c1c1c"/><stop offset="0.63" stop-color="#040404"/><stop offset="1" stop-color="#040404"/></linearGradient>
<linearGradient id="b28" href="#lgb"><stop offset="0" stop-color="#000000"/><stop offset="0.056" stop-color="#080808"/><stop offset="0.164" stop-color="#575757"/><stop offset="0.254" stop-color="#acacac"/><stop offset="0.355" stop-color="#acacac"/><stop offset="0.471" stop-color="#575757"/><stop offset="0.545" stop-color="#1c1c1c"/><stop offset="0.639" stop-color="#050505"/><stop offset="1" stop-color="#050505"/></linearGradient>
<linearGradient id="b29" href="#lgb"><stop offset="0" stop-color="#000000"/><stop offset="0.056" stop-color="#080808"/><stop offset="0.164" stop-color="#575757"/><stop offset="0.252" stop-color="#acacac"/><stop offset="0.358" stop-color="#acacac"/><stop offset="0.475" stop-color="#575757"/><stop offset="0.549" stop-color="#1c1c1c"/><stop offset="0.648" stop-color="#060606"/><stop offset="1" stop-color="#060606"/></linearGradient>
<linearGradient id="b30" href="#lgb"><stop offset="0" stop-color="#000000"/><stop offset="0.056" stop-color="#080808"/><stop offset="0.163" stop-color="#575757"/><stop offset="0.251" stop-color="#ababab"/><stop offset="0.361" stop-color="#ababab"/><stop offset="0.479" stop-color="#575757"/><stop offset="0.554" stop-color="#1c1c1c"/><stop offset="0.658" stop-color="#070707"/><stop offset="1" stop-color="#070707"/></linearGradient>
<linearGradient id="b31" href="#lgb"><stop offset="0" stop-color="#000000"/><stop offset="0.055" stop-color="#080808"/><stop offset="0.16" stop-color="#575757"/><stop offset="0.247" stop-color="#aaaaaa"/><stop offset="0.365" stop-color="#aaaaaa"/><stop offset="0.482" stop-color="#575757"/><stop offset="0.561" stop-color="#1c1c1c"/><stop offset="0.672" stop-color="#080808"/><stop offset="1" stop-color="#080808"/></linearGradient>
<linearGradient id="b32" href="#lgb"><stop offset="0" stop-color="#010101"/><stop offset="0.053" stop-color="#080808"/><stop offset="0.155" stop-color="#575757"/><stop offset="0.241" stop-color="#a8a8a8"/><stop offset="0.37" stop-color="#a8a8a8"/><stop offset="0.485" stop-color="#575757"/><stop offset="0.571" stop-color="#1c1c1c"/><stop offset="0.691" stop-color="#0a0a0a"/><stop offset="1" stop-color="#0a0a0a"/></linearGradient>
<linearGradient id="b33" href="#lgb"><stop offset="0" stop-color="#020202"/><stop offset="0.05" stop-color="#080808"/><stop offset="0.15" stop-color="#575757"/><stop offset="0.234" stop-color="#a7a7a7"/><stop offset="0.374" stop-color="#a7a7a7"/><stop offset="0.487" stop-color="#575757"/><stop offset="0.582" stop-color="#1c1c1c"/><stop offset="0.709" stop-color="#0c0c0c"/><stop offset="1" stop-color="#0c0c0c"/></linearGradient>
<linearGradient id="b34" href="#lgb"><stop offset="0" stop-color="#020202"/><stop offset="0.048" stop-color="#080808"/><stop offset="0.145" stop-color="#575757"/><stop offset="0.228" stop-color="#a5a5a5"/><stop offset="0.379" stop-color="#a5a5a5"/><stop offset="0.489" stop-color="#575757"/><stop offset="0.592" stop-color="#1c1c1c"/><stop offset="0.728" stop-color="#0d0d0d"/><stop offset="1" stop-color="#0d0d0d"/></linearGradient>
<linearGradient id="b35" href="#lgb"><stop offset="0" stop-color="#030303"/><stop offset="0.046" stop-color="#080808"/><stop offset="0.14" stop-color="#575757"/><stop offset="0.222" stop-color="#a4a4a4"/><stop offset="0.384" stop-color="#a4a4a4"/><stop offset="0.492" stop-color="#575757"/><stop offset="0.602" stop-color="#1c1c1c"/><stop offset="0.747" stop-color="#0f0f0f"/><stop offset="1" stop-color="#0f0f0f"/></linearGradient>
<linearGradient id="b36" href="#lgb"><stop offset="0" stop-color="#040404"/><stop offset="0.043" stop-color="#080808"/><stop offset="0.135" stop-color="#575757"/><stop offset="0.216" stop-color="#a2a2a2"/><stop offset="0.388" stop-color="#a2a2a2"/><stop offset="0.494" stop-color="#575757"/><stop offset="0.612" stop-color="#1c1c1c"/><stop offset="0.766" stop-color="#101010"/><stop offset="1" stop-color="#101010"/></linearGradient>
<linearGradient id="b37" href="#lgb"><stop offset="0" stop-color="#040404"/><stop offset="0.041" stop-color="#080808"/><stop offset="0.13" stop-color="#575757"/><stop offset="0.209" stop-color="#a0a0a0"/><stop offset="0.393" stop-color="#a0a0a0"/><stop offset="0.496" stop-color="#575757"/><stop offset="0.622" stop-color="#1c1c1c"/><stop offset="0.784" stop-color="#121212"/><stop offset="1" stop-color="#121212"/></linearGradient>
<linearGradient id="b38" href="#lgb"><stop offset="0" stop-color="#050505"/><stop offset="0.039" stop-color="#080808"/><stop offset="0.125" stop-color="#575757"/><stop offset="0.203" stop-color="#9f9f9f"/><stop offset="0.398" stop-color="#9f9f9f"/><stop offset="0.499" stop-color="#575757"/><stop offset="0.632" stop-color="#1c1c1c"/><stop offset="0.803" stop-color="#141414"/><stop offset="1" stop-color="#141414"/></linearGradient>
<linearGradient id="b39" href="#lgb"><stop offset="0" stop-color="#050505"/><stop offset="0.037" stop-color="#080808"/><stop offset="0.122" stop-color="#575757"/><stop offset="0.2" stop-color="#9e9e9e"/><stop offset="0.4" stop-color="#9e9e9e"/><stop offset="0.5" stop-color="#575757"/><stop offset="0.637" stop-color="#1c1c1c"/><stop offset="0.812" stop-color="#141414"/><stop offset="1" stop-color="#141414"/></linearGradient>
<linearGradient id="lgc" gradientUnits="userSpaceOnUse" x1="80.0" x2="522.2" y1="0" y2="0" spreadMethod="reflect"/>
<filter id="fc" filterUnits="userSpaceOnUse" x="-80" y="-80" width="712" height="1871" color-interpolation-filters="sRGB"><feGaussianBlur in="SourceGraphic" stdDeviation="4 12" result="F"/><feTurbulence type="fractalNoise" baseFrequency="0.05 0.013" numOctaves="2" seed="25" result="U"/><feColorMatrix in="U" type="matrix" values="0.3 0 0 0 0.35  0 1 0 0 0  0 0 1 0 0  0 0 0 0 1" result="V"/><feDisplacementMap in="F" in2="V" scale="150" xChannelSelector="R" yChannelSelector="G" result="D"/><feTurbulence type="fractalNoise" baseFrequency="0.085 0.021" numOctaves="2" seed="5" result="T"/><feColorMatrix in="T" type="matrix" values="2.4 0 0 0 -0.7  2.4 0 0 0 -0.7  2.4 0 0 0 -0.7  0 0 0 0 1" result="N"/><feComposite in="D" in2="N" operator="arithmetic" k1="0.55" k2="0.725" k3="0" k4="0" result="G"/><feComponentTransfer in="G"><feFuncR type="table" tableValues="0.522 0.565 0.655 0.754 0.850 0.897 0.915 0.932 0.937 0.941 0.950 0.959 0.969 0.980 0.991 0.976 0.948 0.870 0.794 0.742 0.691 0.644 0.605 0.565 0.534 0.506 0.478 0.450 0.399 0.343 0.275 0.184 0.164 0.180 0.201 0.224 0.226 0.225 0.224 0.221 0.214 0.206 0.199 0.191 0.181 0.172 0.167 0.165"/><feFuncG type="table" tableValues="0.082 0.096 0.107 0.116 0.120 0.146 0.186 0.225 0.285 0.346 0.423 0.502 0.581 0.650 0.719 0.827 0.917 0.887 0.858 0.840 0.823 0.809 0.800 0.791 0.788 0.786 0.785 0.784 0.784 0.784 0.777 0.759 0.688 0.588 0.508 0.435 0.400 0.372 0.343 0.319 0.303 0.286 0.270 0.255 0.242 0.228 0.208 0.184"/><feFuncB type="table" tableValues="0.106 0.116 0.129 0.140 0.147 0.147 0.144 0.141 0.138 0.134 0.127 0.120 0.113 0.095 0.076 0.089 0.107 0.136 0.167 0.206 0.246 0.289 0.341 0.392 0.448 0.505 0.563 0.621 0.705 0.793 0.866 0.916 0.894 0.833 0.775 0.719 0.694 0.674 0.655 0.640 0.632 0.624 0.615 0.603 0.587 0.570 0.537 0.494"/></feComponentTransfer></filter>
<clipPath id="cc"><rect x="275.9" y="0" width="277.4" height="1711.2"/></clipPath>
<linearGradient id="c0" href="#lgc"><stop offset="0" stop-color="#000000"/><stop offset="0.388" stop-color="#010101"/><stop offset="0.4" stop-color="#050505"/><stop offset="0.412" stop-color="#080808"/><stop offset="0.431" stop-color="#080808"/><stop offset="0.45" stop-color="#050505"/><stop offset="0.475" stop-color="#020202"/><stop offset="0.5" stop-color="#000000"/><stop offset="1" stop-color="#000000"/></linearGradient>
<linearGradient id="c1" href="#lgc"><stop offset="0" stop-color="#000000"/><stop offset="0.388" stop-color="#020202"/><stop offset="0.402" stop-color="#0e0e0e"/><stop offset="0.414" stop-color="#161616"/><stop offset="0.437" stop-color="#161616"/><stop offset="0.457" stop-color="#0e0e0e"/><stop offset="0.486" stop-color="#070707"/><stop offset="0.515" stop-color="#000000"/><stop offset="1" stop-color="#000000"/></linearGradient>
<linearGradient id="c2" href="#lgc"><stop offset="0" stop-color="#000000"/><stop offset="0.388" stop-color="#040404"/><stop offset="0.406" stop-color="#161616"/><stop offset="0.418" stop-color="#242424"/><stop offset="0.448" stop-color="#242424"/><stop offset="0.472" stop-color="#161616"/><stop offset="0.508" stop-color="#0b0b0b"/><stop offset="0.544" stop-color="#000000"/><stop offset="1" stop-color="#000000"/></linearGradient>
<linearGradient id="c3" href="#lgc"><stop offset="0" stop-color="#000000"/><stop offset="0.384" stop-color="#050505"/><stop offset="0.41" stop-color="#1d1d1d"/><stop offset="0.427" stop-color="#2e2e2e"/><stop offset="0.458" stop-color="#2e2e2e"/><stop offset="0.483" stop-color="#1d1d1d"/><stop offset="0.524" stop-color="#0e0e0e"/><stop offset="0.566" stop-color="#000000"/><stop offset="1" stop-color="#000000"/></linearGradient>
<linearGradient id="c4" href="#lgc"><stop offset="0" stop-color="#000000"/><stop offset="0.379" stop-color="#060606"/><stop offset="0.415" stop-color="#232323"/><stop offset="0.437" stop-color="#393939"/><stop offset="0.468" stop-color="#393939"/><stop offset="0.493" stop-color="#232323"/><stop offset="0.539" stop-color="#111111"/><stop offset="0.586" stop-color="#000000"/><stop offset="1" stop-color="#000000"/></linearGradient>
<linearGradient id="c5" href="#lgc"><stop offset="0" stop-color="#000000"/><stop offset="0.369" stop-color="#070707"/><stop offset="0.414" stop-color="#292929"/><stop offset="0.442" stop-color="#434343"/><stop offset="0.475" stop-color="#434343"/><stop offset="0.503" stop-color="#292929"/><stop offset="0.553" stop-color="#141414"/><stop offset="0.606" stop-color="#000000"/><stop offset="1" stop-color="#000000"/></linearGradient>
<linearGradient id="c6" href="#lgc"><stop offset="0" stop-color="#000000"/><stop offset="0.35" stop-color="#080808"/><stop offset="0.4" stop-color="#2f2f2f"/><stop offset="0.438" stop-color="#4c4c4c"/><stop offset="0.475" stop-color="#4c4c4c"/><stop offset="0.512" stop-color="#2f2f2f"/><stop offset="0.562" stop-color="#171717"/><stop offset="0.625" stop-color="#000000"/><stop offset="1" stop-color="#000000"/></linearGradient>
<linearGradient id="c7" href="#lgc"><stop offset="0" stop-color="#000000"/><stop offset="0.307" stop-color="#080808"/><stop offset="0.381" stop-color="#343434"/><stop offset="0.428" stop-color="#545454"/><stop offset="0.475" stop-color="#545454"/><stop offset="0.522" stop-color="#343434"/><stop offset="0.572" stop-color="#191919"/><stop offset="0.644" stop-color="#000000"/><stop offset="1" stop-color="#000000"/></linearGradient>
<linearGradient id="c8" href="#lgc"><stop offset="0" stop-color="#000000"/><stop offset="0.272" stop-color="#080808"/><stop offset="0.357" stop-color="#414141"/><stop offset="0.407" stop-color="#696969"/><stop offset="0.484" stop-color="#696969"/><stop offset="0.534" stop-color="#414141"/><stop offset="0.584" stop-color="#1b1b1b"/><stop offset="0.659" stop-color="#000000"/><stop offset="1" stop-color="#000000"/></linearGradient>
<linearGradient id="c9" href="#lgc"><stop offset="0" stop-color="#000000"/><stop offset="0.243" stop-color="#080808"/><stop offset="0.321" stop-color="#4d4d4d"/><stop offset="0.371" stop-color="#7c7c7c"/><stop offset="0.487" stop-color="#7c7c7c"/><stop offset="0.537" stop-color="#4d4d4d"/><stop offset="0.597" stop-color="#1c1c1c"/><stop offset="0.672" stop-color="#000000"/><stop offset="1" stop-color="#000000"/></linearGradient>
<linearGradient id="c10" href="#lgc"><stop offset="0" stop-color="#000000"/><stop offset="0.218" stop-color="#080808"/><stop offset="0.279" stop-color="#525252"/><stop offset="0.329" stop-color="#848484"/><stop offset="0.487" stop-color="#848484"/><stop offset="0.544" stop-color="#525252"/><stop offset="0.613" stop-color="#1c1c1c"/><stop offset="0.688" stop-color="#000000"/><stop offset="1" stop-color="#000000"/></linearGradient>
<linearGradient id="c11" href="#lgc"><stop offset="0" stop-color="#000000"/><stop offset="0.11" stop-color="#080808"/><stop offset="0.153" stop-color="#545454"/><stop offset="0.203" stop-color="#878787"/><stop offset="0.48" stop-color="#878787"/><stop offset="0.554" stop-color="#545454"/><stop offset="0.632" stop-color="#1c1c1c"/><stop offset="0.715" stop-color="#000000"/><stop offset="1" stop-color="#000000"/></linearGradient>
<linearGradient id="c12" href="#lgc"><stop offset="0" stop-color="#000000"/><stop offset="0.038" stop-color="#080808"/><stop offset="0.067" stop-color="#555555"/><stop offset="0.113" stop-color="#898989"/><stop offset="0.458" stop-color="#898989"/><stop offset="0.56" stop-color="#555555"/><stop offset="0.654" stop-color="#1c1c1c"/><stop offset="0.758" stop-color="#000000"/><stop offset="1" stop-color="#000000"/></linearGradient>
<linearGradient id="c13" href="#lgc"><stop offset="0" stop-color="#040404"/><stop offset="0.018" stop-color="#080808"/><stop offset="0.039" stop-color="#565656"/><stop offset="0.08" stop-color="#8c8c8c"/><stop offset="0.423" stop-color="#8c8c8c"/><stop offset="0.562" stop-color="#565656"/><stop offset="0.683" stop-color="#1c1c1c"/><stop offset="0.795" stop-color="#000000"/><stop offset="1" stop-color="#000000"/></linearGradient>
<linearGradient id="c14" href="#lgc"><stop offset="0" stop-color="#090909"/><stop offset="0.007" stop-color="#080808"/><stop offset="0.024" stop-color="#575757"/><stop offset="0.062" stop-color="#929292"/><stop offset="0.383" stop-color="#929292"/><stop offset="0.562" stop-color="#575757"/><stop offset="0.704" stop-color="#1c1c1c"/><stop offset="0.817" stop-color="#000000"/><stop offset="1" stop-color="#000000"/></linearGradient>
<linearGradient id="c15" href="#lgc"><stop offset="0" stop-color="#0d0d0d"/><stop offset="0.006" stop-color="#080808"/><stop offset="0.022" stop-color="#575757"/><stop offset="0.062" stop-color="#999999"/><stop offset="0.35" stop-color="#999999"/><stop offset="0.562" stop-color="#575757"/><stop offset="0.713" stop-color="#1c1c1c"/><stop offset="0.825" stop-color="#000000"/><stop offset="1" stop-color="#000000"/></linearGradient>
<linearGradient id="c16" href="#lgc"><stop offset="0" stop-color="#0d0d0d"/><stop offset="0.006" stop-color="#080808"/><stop offset="0.021" stop-color="#575757"/><stop offset="0.06" stop-color="#9d9d9d"/><stop offset="0.345" stop-color="#9d9d9d"/><stop offset="0.562" stop-color="#575757"/><stop offset="0.728" stop-color="#1c1c1c"/><stop offset="0.845" stop-color="#000000"/><stop offset="1" stop-color="#000000"/></linearGradient>
<linearGradient id="c17" href="#lgc"><stop offset="0" stop-color="#0d0d0d"/><stop offset="0.005" stop-color="#080808"/><stop offset="0.019" stop-color="#575757"/><stop offset="0.058" stop-color="#a1a1a1"/><stop offset="0.34" stop-color="#a1a1a1"/><stop offset="0.562" stop-color="#575757"/><stop offset="0.743" stop-color="#1c1c1c"/><stop offset="0.865" stop-color="#000000"/><stop offset="1" stop-color="#000000"/></linearGradient>
<linearGradient id="c18" href="#lgc"><stop offset="0" stop-color="#0d0d0d"/><stop offset="0.005" stop-color="#080808"/><stop offset="0.019" stop-color="#575757"/><stop offset="0.056" stop-color="#a3a3a3"/><stop offset="0.338" stop-color="#a3a3a3"/><stop offset="0.562" stop-color="#575757"/><stop offset="0.75" stop-color="#1c1c1c"/><stop offset="0.875" stop-color="#000000"/><stop offset="1" stop-color="#000000"/></linearGradient>
<linearGradient id="lgd" gradientUnits="userSpaceOnUse" x1="80.0" x2="496.0" y1="0" y2="0" spreadMethod="reflect"/>
<filter id="fd" filterUnits="userSpaceOnUse" x="-80" y="-80" width="680" height="1773" color-interpolation-filters="sRGB"><feGaussianBlur in="SourceGraphic" stdDeviation="2.5 10" result="F"/><feTurbulence type="fractalNoise" baseFrequency="0.05 0.013" numOctaves="2" seed="27" result="U"/><feColorMatrix in="U" type="matrix" values="0.35 0 0 0 0.325  0 1 0 0 0  0 0 1 0 0  0 0 0 0 1" result="V"/><feDisplacementMap in="F" in2="V" scale="100" xChannelSelector="R" yChannelSelector="G" result="D"/><feTurbulence type="fractalNoise" baseFrequency="0.1 0.03" numOctaves="2" seed="7" result="T"/><feColorMatrix in="T" type="matrix" values="2.4 0 0 0 -0.7  2.4 0 0 0 -0.7  2.4 0 0 0 -0.7  0 0 0 0 1" result="N"/><feComposite in="D" in2="N" operator="arithmetic" k1="0.9" k2="0.55" k3="0" k4="0" result="G"/><feComponentTransfer in="G"><feFuncR type="table" tableValues="0.522 0.565 0.655 0.754 0.850 0.897 0.915 0.932 0.937 0.941 0.950 0.959 0.969 0.980 0.991 0.976 0.948 0.870 0.794 0.742 0.691 0.644 0.605 0.565 0.534 0.506 0.478 0.450 0.399 0.343 0.275 0.184 0.164 0.180 0.201 0.224 0.226 0.225 0.224 0.221 0.214 0.206 0.199 0.191 0.181 0.172 0.167 0.165"/><feFuncG type="table" tableValues="0.082 0.096 0.107 0.116 0.120 0.146 0.186 0.225 0.285 0.346 0.423 0.502 0.581 0.650 0.719 0.827 0.917 0.887 0.858 0.840 0.823 0.809 0.800 0.791 0.788 0.786 0.785 0.784 0.784 0.784 0.777 0.759 0.688 0.588 0.508 0.435 0.400 0.372 0.343 0.319 0.303 0.286 0.270 0.255 0.242 0.228 0.208 0.184"/><feFuncB type="table" tableValues="0.106 0.116 0.129 0.140 0.147 0.147 0.144 0.141 0.138 0.134 0.127 0.120 0.113 0.095 0.076 0.089 0.107 0.136 0.167 0.206 0.246 0.289 0.341 0.392 0.448 0.505 0.563 0.621 0.705 0.793 0.866 0.916 0.894 0.833 0.775 0.719 0.694 0.674 0.655 0.640 0.632 0.624 0.615 0.603 0.587 0.570 0.537 0.494"/></feComponentTransfer></filter>
<clipPath id="cd"><rect x="259.5" y="0" width="261.0" height="1613.0"/></clipPath>
<linearGradient id="d0" href="#lgd"><stop offset="0" stop-color="#000000"/><stop offset="0.056" stop-color="#020202"/><stop offset="0.075" stop-color="#0f0f0f"/><stop offset="0.087" stop-color="#181818"/><stop offset="0.113" stop-color="#181818"/><stop offset="0.125" stop-color="#0f0f0f"/><stop offset="0.138" stop-color="#070707"/><stop offset="0.158" stop-color="#000000"/><stop offset="1" stop-color="#000000"/></linearGradient>
<linearGradient id="d1" href="#lgd"><stop offset="0" stop-color="#000000"/><stop offset="0.052" stop-color="#040404"/><stop offset="0.073" stop-color="#1a1a1a"/><stop offset="0.086" stop-color="#2a2a2a"/><stop offset="0.113" stop-color="#2a2a2a"/><stop offset="0.125" stop-color="#1a1a1a"/><stop offset="0.142" stop-color="#0d0d0d"/><stop offset="0.165" stop-color="#000000"/><stop offset="1" stop-color="#000000"/></linearGradient>
<linearGradient id="d2" href="#lgd"><stop offset="0" stop-color="#000000"/><stop offset="0.048" stop-color="#060606"/><stop offset="0.07" stop-color="#242424"/><stop offset="0.083" stop-color="#393939"/><stop offset="0.11" stop-color="#393939"/><stop offset="0.123" stop-color="#242424"/><stop offset="0.144" stop-color="#111111"/><stop offset="0.17" stop-color="#000000"/><stop offset="1" stop-color="#000000"/></linearGradient>
<linearGradient id="d3" href="#lgd"><stop offset="0" stop-color="#000000"/><stop offset="0.045" stop-color="#070707"/><stop offset="0.065" stop-color="#2b2b2b"/><stop offset="0.079" stop-color="#464646"/><stop offset="0.105" stop-color="#464646"/><stop offset="0.12" stop-color="#2b2b2b"/><stop offset="0.144" stop-color="#151515"/><stop offset="0.173" stop-color="#000000"/><stop offset="1" stop-color="#000000"/></linearGradient>
<linearGradient id="d4" href="#lgd"><stop offset="0" stop-color="#000000"/><stop offset="0.042" stop-color="#080808"/><stop offset="0.061" stop-color="#333333"/><stop offset="0.076" stop-color="#525252"/><stop offset="0.101" stop-color="#525252"/><stop offset="0.118" stop-color="#333333"/><stop offset="0.145" stop-color="#181818"/><stop offset="0.178" stop-color="#000000"/><stop offset="1" stop-color="#000000"/></linearGradient>
<linearGradient id="d5" href="#lgd"><stop offset="0" stop-color="#000000"/><stop offset="0.039" stop-color="#080808"/><stop offset="0.058" stop-color="#393939"/><stop offset="0.074" stop-color="#5c5c5c"/><stop offset="0.099" stop-color="#5c5c5c"/><stop offset="0.116" stop-color="#393939"/><stop offset="0.148" stop-color="#1b1b1b"/><stop offset="0.184" stop-color="#000000"/><stop offset="1" stop-color="#000000"/></linearGradient>
<linearGradient id="d6" href="#lgd"><stop offset="0" stop-color="#000000"/><stop offset="0.036" stop-color="#080808"/><stop offset="0.055" stop-color="#434343"/><stop offset="0.073" stop-color="#6d6d6d"/><stop offset="0.103" stop-color="#6d6d6d"/><stop offset="0.123" stop-color="#434343"/><stop offset="0.157" stop-color="#1c1c1c"/><stop offset="0.191" stop-color="#000000"/><stop offset="1" stop-color="#000000"/></linearGradient>
<linearGradient id="d7" href="#lgd"><stop offset="0" stop-color="#000000"/><stop offset="0.033" stop-color="#080808"/><stop offset="0.053" stop-color="#515151"/><stop offset="0.074" stop-color="#858585"/><stop offset="0.114" stop-color="#858585"/><stop offset="0.138" stop-color="#515151"/><stop offset="0.17" stop-color="#1c1c1c"/><stop offset="0.197" stop-color="#000000"/><stop offset="1" stop-color="#000000"/></linearGradient>
<linearGradient id="d8" href="#lgd"><stop offset="0" stop-color="#0e0e0e"/><stop offset="0.021" stop-color="#111111"/><stop offset="0.044" stop-color="#575757"/><stop offset="0.065" stop-color="#8f8f8f"/><stop offset="0.105" stop-color="#8f8f8f"/><stop offset="0.13" stop-color="#575757"/><stop offset="0.168" stop-color="#1c1c1c"/><stop offset="0.197" stop-color="#000000"/><stop offset="1" stop-color="#000000"/></linearGradient>
<linearGradient id="d9" href="#lgd"><stop offset="0" stop-color="#1a1a1a"/><stop offset="0.012" stop-color="#1c1c1c"/><stop offset="0.036" stop-color="#555555"/><stop offset="0.055" stop-color="#8b8b8b"/><stop offset="0.091" stop-color="#8b8b8b"/><stop offset="0.116" stop-color="#555555"/><stop offset="0.158" stop-color="#1c1c1c"/><stop offset="0.189" stop-color="#000000"/><stop offset="1" stop-color="#000000"/></linearGradient>
<linearGradient id="d10" href="#lgd"><stop offset="0" stop-color="#1c1c1c"/><stop offset="0.011" stop-color="#202020"/><stop offset="0.034" stop-color="#515151"/><stop offset="0.052" stop-color="#858585"/><stop offset="0.086" stop-color="#858585"/><stop offset="0.111" stop-color="#515151"/><stop offset="0.15" stop-color="#1c1c1c"/><stop offset="0.178" stop-color="#000000"/><stop offset="1" stop-color="#000000"/></linearGradient>
<linearGradient id="d11" href="#lgd"><stop offset="0" stop-color="#1e1e1e"/><stop offset="0.01" stop-color="#242424"/><stop offset="0.032" stop-color="#4e4e4e"/><stop offset="0.049" stop-color="#7e7e7e"/><stop offset="0.08" stop-color="#7e7e7e"/><stop offset="0.105" stop-color="#4e4e4e"/><stop offset="0.142" stop-color="#1c1c1c"/><stop offset="0.168" stop-color="#000000"/><stop offset="1" stop-color="#000000"/></linearGradient>
<linearGradient id="d12" href="#lgd"><stop offset="0" stop-color="#212121"/><stop offset="0.009" stop-color="#292929"/><stop offset="0.029" stop-color="#4b4b4b"/><stop offset="0.045" stop-color="#7a7a7a"/><stop offset="0.075" stop-color="#7a7a7a"/><stop offset="0.1" stop-color="#4b4b4b"/><stop offset="0.134" stop-color="#1c1c1c"/><stop offset="0.16" stop-color="#000000"/><stop offset="1" stop-color="#000000"/></linearGradient>
<linearGradient id="d13" href="#lgd"><stop offset="0" stop-color="#272727"/><stop offset="0.008" stop-color="#2e2e2e"/><stop offset="0.024" stop-color="#4b4b4b"/><stop offset="0.039" stop-color="#787878"/><stop offset="0.071" stop-color="#787878"/><stop offset="0.094" stop-color="#4b4b4b"/><stop offset="0.127" stop-color="#1c1c1c"/><stop offset="0.155" stop-color="#000000"/><stop offset="1" stop-color="#000000"/></linearGradient>
<linearGradient id="d14" href="#lgd"><stop offset="0" stop-color="#2d2d2d"/><stop offset="0.007" stop-color="#333333"/><stop offset="0.02" stop-color="#4a4a4a"/><stop offset="0.034" stop-color="#777777"/><stop offset="0.067" stop-color="#777777"/><stop offset="0.088" stop-color="#4a4a4a"/><stop offset="0.12" stop-color="#1c1c1c"/><stop offset="0.149" stop-color="#000000"/><stop offset="1" stop-color="#000000"/></linearGradient>
<linearGradient id="d15" href="#lgd"><stop offset="0" stop-color="#323232"/><stop offset="0.006" stop-color="#383838"/><stop offset="0.015" stop-color="#494949"/><stop offset="0.028" stop-color="#757575"/><stop offset="0.063" stop-color="#757575"/><stop offset="0.082" stop-color="#494949"/><stop offset="0.113" stop-color="#1c1c1c"/><stop offset="0.144" stop-color="#000000"/><stop offset="1" stop-color="#000000"/></linearGradient>
<linearGradient id="d16" href="#lgd"><stop offset="0" stop-color="#404040"/><stop offset="0.005" stop-color="#444444"/><stop offset="0.013" stop-color="#4c4c4c"/><stop offset="0.024" stop-color="#7b7b7b"/><stop offset="0.055" stop-color="#7b7b7b"/><stop offset="0.074" stop-color="#4c4c4c"/><stop offset="0.106" stop-color="#1c1c1c"/><stop offset="0.139" stop-color="#000000"/><stop offset="1" stop-color="#000000"/></linearGradient>
<linearGradient id="d17" href="#lgd"><stop offset="0" stop-color="#505050"/><stop offset="0.004" stop-color="#525252"/><stop offset="0.01" stop-color="#515151"/><stop offset="0.019" stop-color="#828282"/><stop offset="0.047" stop-color="#828282"/><stop offset="0.065" stop-color="#515151"/><stop offset="0.099" stop-color="#1c1c1c"/><stop offset="0.133" stop-color="#000000"/><stop offset="1" stop-color="#000000"/></linearGradient>
<linearGradient id="d18" href="#lgd"><stop offset="0" stop-color="#5e5e5e"/><stop offset="0.003" stop-color="#5f5f5f"/><stop offset="0.008" stop-color="#555555"/><stop offset="0.015" stop-color="#898989"/><stop offset="0.039" stop-color="#898989"/><stop offset="0.057" stop-color="#555555"/><stop offset="0.091" stop-color="#1c1c1c"/><stop offset="0.128" stop-color="#000000"/><stop offset="1" stop-color="#000000"/></linearGradient>
<linearGradient id="d19" href="#lgd"><stop offset="0" stop-color="#676767"/><stop offset="0.003" stop-color="#676767"/><stop offset="0.006" stop-color="#575757"/><stop offset="0.013" stop-color="#8e8e8e"/><stop offset="0.035" stop-color="#8e8e8e"/><stop offset="0.052" stop-color="#575757"/><stop offset="0.087" stop-color="#1c1c1c"/><stop offset="0.125" stop-color="#000000"/><stop offset="1" stop-color="#000000"/></linearGradient>
<linearGradient id="d20" href="#lgd"><stop offset="0" stop-color="#6a6a6a"/><stop offset="0.003" stop-color="#6a6a6a"/><stop offset="0.006" stop-color="#575757"/><stop offset="0.013" stop-color="#909090"/><stop offset="0.035" stop-color="#909090"/><stop offset="0.052" stop-color="#575757"/><stop offset="0.087" stop-color="#1c1c1c"/><stop offset="0.125" stop-color="#000000"/><stop offset="1" stop-color="#000000"/></linearGradient>
<linearGradient id="d21" href="#lgd"><stop offset="0" stop-color="#6c6c6c"/><stop offset="0.003" stop-color="#6c6c6c"/><stop offset="0.006" stop-color="#575757"/><stop offset="0.013" stop-color="#939393"/><stop offset="0.035" stop-color="#939393"/><stop offset="0.052" stop-color="#575757"/><stop offset="0.087" stop-color="#1c1c1c"/><stop offset="0.125" stop-color="#000000"/><stop offset="1" stop-color="#000000"/></linearGradient>
<linearGradient id="d22" href="#lgd"><stop offset="0" stop-color="#6f6f6f"/><stop offset="0.003" stop-color="#6f6f6f"/><stop offset="0.006" stop-color="#575757"/><stop offset="0.013" stop-color="#959595"/><stop offset="0.035" stop-color="#959595"/><stop offset="0.052" stop-color="#575757"/><stop offset="0.087" stop-color="#1c1c1c"/><stop offset="0.125" stop-color="#000000"/><stop offset="1" stop-color="#000000"/></linearGradient>
<linearGradient id="d23" href="#lgd"><stop offset="0" stop-color="#717171"/><stop offset="0.003" stop-color="#717171"/><stop offset="0.006" stop-color="#575757"/><stop offset="0.013" stop-color="#989898"/><stop offset="0.035" stop-color="#989898"/><stop offset="0.052" stop-color="#575757"/><stop offset="0.087" stop-color="#1c1c1c"/><stop offset="0.125" stop-color="#000000"/><stop offset="1" stop-color="#000000"/></linearGradient>
<linearGradient id="d24" href="#lgd"><stop offset="0" stop-color="#717171"/><stop offset="0.003" stop-color="#717171"/><stop offset="0.006" stop-color="#565656"/><stop offset="0.013" stop-color="#979797"/><stop offset="0.035" stop-color="#979797"/><stop offset="0.052" stop-color="#565656"/><stop offset="0.088" stop-color="#1c1c1c"/><stop offset="0.125" stop-color="#000000"/><stop offset="1" stop-color="#000000"/></linearGradient>
<linearGradient id="d25" href="#lgd"><stop offset="0" stop-color="#6f6f6f"/><stop offset="0.003" stop-color="#6f6f6f"/><stop offset="0.006" stop-color="#555555"/><stop offset="0.013" stop-color="#939393"/><stop offset="0.035" stop-color="#939393"/><stop offset="0.052" stop-color="#555555"/><stop offset="0.089" stop-color="#1c1c1c"/><stop offset="0.125" stop-color="#000000"/><stop offset="1" stop-color="#000000"/></linearGradient>
<linearGradient id="d26" href="#lgd"><stop offset="0" stop-color="#6c6c6c"/><stop offset="0.003" stop-color="#6c6c6c"/><stop offset="0.006" stop-color="#545454"/><stop offset="0.013" stop-color="#8f8f8f"/><stop offset="0.035" stop-color="#8f8f8f"/><stop offset="0.052" stop-color="#545454"/><stop offset="0.091" stop-color="#1c1c1c"/><stop offset="0.125" stop-color="#000000"/><stop offset="1" stop-color="#000000"/></linearGradient>
<linearGradient id="d27" href="#lgd"><stop offset="0" stop-color="#6a6a6a"/><stop offset="0.003" stop-color="#6a6a6a"/><stop offset="0.006" stop-color="#545454"/><stop offset="0.013" stop-color="#8b8b8b"/><stop offset="0.035" stop-color="#8b8b8b"/><stop offset="0.052" stop-color="#545454"/><stop offset="0.092" stop-color="#1c1c1c"/><stop offset="0.125" stop-color="#000000"/><stop offset="1" stop-color="#000000"/></linearGradient>
<linearGradient id="d28" href="#lgd"><stop offset="0" stop-color="#676767"/><stop offset="0.003" stop-color="#676767"/><stop offset="0.006" stop-color="#535353"/><stop offset="0.013" stop-color="#878787"/><stop offset="0.035" stop-color="#878787"/><stop offset="0.052" stop-color="#535353"/><stop offset="0.093" stop-color="#1c1c1c"/><stop offset="0.125" stop-color="#000000"/><stop offset="1" stop-color="#000000"/></linearGradient>
<linearGradient id="d29" href="#lgd"><stop offset="0" stop-color="#666666"/><stop offset="0.003" stop-color="#666666"/><stop offset="0.006" stop-color="#525252"/><stop offset="0.013" stop-color="#858585"/><stop offset="0.035" stop-color="#858585"/><stop offset="0.053" stop-color="#525252"/><stop offset="0.092" stop-color="#1c1c1c"/><stop offset="0.123" stop-color="#000000"/><stop offset="1" stop-color="#000000"/></linearGradient>
<linearGradient id="d30" href="#lgd"><stop offset="0" stop-color="#666666"/><stop offset="0.003" stop-color="#666666"/><stop offset="0.006" stop-color="#525252"/><stop offset="0.013" stop-color="#858585"/><stop offset="0.035" stop-color="#858585"/><stop offset="0.054" stop-color="#525252"/><stop offset="0.087" stop-color="#1c1c1c"/><stop offset="0.119" stop-color="#000000"/><stop offset="1" stop-color="#000000"/></linearGradient>
<linearGradient id="d31" href="#lgd"><stop offset="0" stop-color="#666666"/><stop offset="0.003" stop-color="#666666"/><stop offset="0.006" stop-color="#525252"/><stop offset="0.013" stop-color="#858585"/><stop offset="0.035" stop-color="#858585"/><stop offset="0.056" stop-color="#525252"/><stop offset="0.083" stop-color="#1c1c1c"/><stop offset="0.115" stop-color="#000000"/><stop offset="1" stop-color="#000000"/></linearGradient>
<linearGradient id="d32" href="#lgd"><stop offset="0" stop-color="#666666"/><stop offset="0.003" stop-color="#666666"/><stop offset="0.006" stop-color="#515151"/><stop offset="0.013" stop-color="#838383"/><stop offset="0.034" stop-color="#838383"/><stop offset="0.055" stop-color="#515151"/><stop offset="0.078" stop-color="#1c1c1c"/><stop offset="0.107" stop-color="#000000"/><stop offset="1" stop-color="#000000"/></linearGradient>
<linearGradient id="d33" href="#lgd"><stop offset="0" stop-color="#666666"/><stop offset="0.003" stop-color="#666666"/><stop offset="0.006" stop-color="#4f4f4f"/><stop offset="0.013" stop-color="#808080"/><stop offset="0.033" stop-color="#808080"/><stop offset="0.052" stop-color="#4f4f4f"/><stop offset="0.072" stop-color="#1c1c1c"/><stop offset="0.097" stop-color="#000000"/><stop offset="1" stop-color="#000000"/></linearGradient>
<linearGradient id="d34" href="#lgd"><stop offset="0" stop-color="#666666"/><stop offset="0.003" stop-color="#666666"/><stop offset="0.006" stop-color="#4d4d4d"/><stop offset="0.013" stop-color="#7c7c7c"/><stop offset="0.032" stop-color="#7c7c7c"/><stop offset="0.049" stop-color="#4d4d4d"/><stop offset="0.066" stop-color="#1c1c1c"/><stop offset="0.086" stop-color="#000000"/><stop offset="1" stop-color="#000000"/></linearGradient>
<linearGradient id="d35" href="#lgd"><stop offset="0" stop-color="#5e5e5e"/><stop offset="0.003" stop-color="#5e5e5e"/><stop offset="0.006" stop-color="#474747"/><stop offset="0.013" stop-color="#727272"/><stop offset="0.027" stop-color="#727272"/><stop offset="0.042" stop-color="#474747"/><stop offset="0.058" stop-color="#1c1c1c"/><stop offset="0.077" stop-color="#000000"/><stop offset="1" stop-color="#000000"/></linearGradient>
<linearGradient id="d36" href="#lgd"><stop offset="0" stop-color="#4c4c4c"/><stop offset="0.003" stop-color="#4c4c4c"/><stop offset="0.006" stop-color="#3c3c3c"/><stop offset="0.013" stop-color="#616161"/><stop offset="0.019" stop-color="#616161"/><stop offset="0.031" stop-color="#3c3c3c"/><stop offset="0.05" stop-color="#1c1c1c"/><stop offset="0.069" stop-color="#000000"/><stop offset="1" stop-color="#000000"/></linearGradient>
<linearGradient id="d37" href="#lgd"><stop offset="0" stop-color="#111111"/><stop offset="0.003" stop-color="#111111"/><stop offset="0.006" stop-color="#0d0d0d"/><stop offset="0.013" stop-color="#151515"/><stop offset="0.019" stop-color="#151515"/><stop offset="0.031" stop-color="#0d0d0d"/><stop offset="0.05" stop-color="#060606"/><stop offset="0.069" stop-color="#000000"/><stop offset="1" stop-color="#000000"/></linearGradient>
<linearGradient id="lge" gradientUnits="userSpaceOnUse" x1="80.0" x2="497.2" y1="0" y2="0" spreadMethod="reflect"/>
<filter id="fe" filterUnits="userSpaceOnUse" x="-80" y="-80" width="681" height="1773" color-interpolation-filters="sRGB"><feGaussianBlur in="SourceGraphic" stdDeviation="2.5 10" result="F"/><feTurbulence type="fractalNoise" baseFrequency="0.05 0.013" numOctaves="2" seed="29" result="U"/><feColorMatrix in="U" type="matrix" values="0.35 0 0 0 0.325  0 1 0 0 0  0 0 1 0 0  0 0 0 0 1" result="V"/><feDisplacementMap in="F" in2="V" scale="100" xChannelSelector="R" yChannelSelector="G" result="D"/><feTurbulence type="fractalNoise" baseFrequency="0.1 0.03" numOctaves="2" seed="9" result="T"/><feColorMatrix in="T" type="matrix" values="2.4 0 0 0 -0.7  2.4 0 0 0 -0.7  2.4 0 0 0 -0.7  0 0 0 0 1" result="N"/><feComposite in="D" in2="N" operator="arithmetic" k1="0.85" k2="0.575" k3="0" k4="0" result="G"/><feComponentTransfer in="G"><feFuncR type="table" tableValues="0.522 0.565 0.655 0.754 0.850 0.897 0.915 0.932 0.937 0.941 0.950 0.959 0.969 0.980 0.991 0.976 0.948 0.870 0.794 0.742 0.691 0.644 0.605 0.565 0.534 0.506 0.478 0.450 0.399 0.343 0.275 0.184 0.164 0.180 0.201 0.224 0.226 0.225 0.224 0.221 0.214 0.206 0.199 0.191 0.181 0.172 0.167 0.165"/><feFuncG type="table" tableValues="0.082 0.096 0.107 0.116 0.120 0.146 0.186 0.225 0.285 0.346 0.423 0.502 0.581 0.650 0.719 0.827 0.917 0.887 0.858 0.840 0.823 0.809 0.800 0.791 0.788 0.786 0.785 0.784 0.784 0.784 0.777 0.759 0.688 0.588 0.508 0.435 0.400 0.372 0.343 0.319 0.303 0.286 0.270 0.255 0.242 0.228 0.208 0.184"/><feFuncB type="table" tableValues="0.106 0.116 0.129 0.140 0.147 0.147 0.144 0.141 0.138 0.134 0.127 0.120 0.113 0.095 0.076 0.089 0.107 0.136 0.167 0.206 0.246 0.289 0.341 0.392 0.448 0.505 0.563 0.621 0.705 0.793 0.866 0.916 0.894 0.833 0.775 0.719 0.694 0.674 0.655 0.640 0.632 0.624 0.615 0.603 0.587 0.570 0.537 0.494"/></feComponentTransfer></filter>
<clipPath id="ce"><rect x="260.2" y="0" width="261.8" height="1613.0"/></clipPath>
<linearGradient id="e0" href="#lge"><stop offset="0" stop-color="#000000"/><stop offset="0.062" stop-color="#000000"/><stop offset="0.081" stop-color="#010101"/><stop offset="0.094" stop-color="#020202"/><stop offset="0.119" stop-color="#020202"/><stop offset="0.131" stop-color="#010101"/><stop offset="0.144" stop-color="#010101"/><stop offset="0.163" stop-color="#000000"/><stop offset="1" stop-color="#000000"/></linearGradient>
<linearGradient id="e1" href="#lge"><stop offset="0" stop-color="#000000"/><stop offset="0.06" stop-color="#020202"/><stop offset="0.079" stop-color="#0d0d0d"/><stop offset="0.093" stop-color="#151515"/><stop offset="0.123" stop-color="#151515"/><stop offset="0.136" stop-color="#0d0d0d"/><stop offset="0.149" stop-color="#060606"/><stop offset="0.168" stop-color="#000000"/><stop offset="1" stop-color="#000000"/></linearGradient>
<linearGradient id="e2" href="#lge"><stop offset="0" stop-color="#000000"/><stop offset="0.048" stop-color="#020202"/><stop offset="0.071" stop-color="#0f0f0f"/><stop offset="0.09" stop-color="#191919"/><stop offset="0.144" stop-color="#191919"/><stop offset="0.16" stop-color="#0f0f0f"/><stop offset="0.172" stop-color="#070707"/><stop offset="0.195" stop-color="#000000"/><stop offset="1" stop-color="#000000"/></linearGradient>
<linearGradient id="e3" href="#lge"><stop offset="0" stop-color="#000000"/><stop offset="0.037" stop-color="#030303"/><stop offset="0.062" stop-color="#121212"/><stop offset="0.087" stop-color="#1c1c1c"/><stop offset="0.163" stop-color="#1c1c1c"/><stop offset="0.182" stop-color="#121212"/><stop offset="0.195" stop-color="#080808"/><stop offset="0.22" stop-color="#000000"/><stop offset="1" stop-color="#000000"/></linearGradient>
<linearGradient id="e4" href="#lge"><stop offset="0" stop-color="#000000"/><stop offset="0.032" stop-color="#030303"/><stop offset="0.055" stop-color="#131313"/><stop offset="0.082" stop-color="#1e1e1e"/><stop offset="0.173" stop-color="#1e1e1e"/><stop offset="0.191" stop-color="#131313"/><stop offset="0.206" stop-color="#090909"/><stop offset="0.231" stop-color="#000000"/><stop offset="1" stop-color="#000000"/></linearGradient>
<linearGradient id="e5" href="#lge"><stop offset="0" stop-color="#000000"/><stop offset="0.028" stop-color="#030303"/><stop offset="0.048" stop-color="#141414"/><stop offset="0.078" stop-color="#202020"/><stop offset="0.182" stop-color="#202020"/><stop offset="0.201" stop-color="#141414"/><stop offset="0.218" stop-color="#0a0a0a"/><stop offset="0.243" stop-color="#000000"/><stop offset="1" stop-color="#000000"/></linearGradient>
<linearGradient id="e6" href="#lge"><stop offset="0" stop-color="#000000"/><stop offset="0.025" stop-color="#040404"/><stop offset="0.045" stop-color="#161616"/><stop offset="0.078" stop-color="#242424"/><stop offset="0.188" stop-color="#242424"/><stop offset="0.207" stop-color="#161616"/><stop offset="0.227" stop-color="#0b0b0b"/><stop offset="0.252" stop-color="#000000"/><stop offset="1" stop-color="#000000"/></linearGradient>
<linearGradient id="e7" href="#lge"><stop offset="0" stop-color="#000000"/><stop offset="0.025" stop-color="#040404"/><stop offset="0.047" stop-color="#1a1a1a"/><stop offset="0.087" stop-color="#292929"/><stop offset="0.188" stop-color="#292929"/><stop offset="0.209" stop-color="#1a1a1a"/><stop offset="0.231" stop-color="#0c0c0c"/><stop offset="0.256" stop-color="#000000"/><stop offset="1" stop-color="#000000"/></linearGradient>
<linearGradient id="e8" href="#lge"><stop offset="0" stop-color="#000000"/><stop offset="0.025" stop-color="#050505"/><stop offset="0.049" stop-color="#1d1d1d"/><stop offset="0.095" stop-color="#2f2f2f"/><stop offset="0.188" stop-color="#2f2f2f"/><stop offset="0.211" stop-color="#1d1d1d"/><stop offset="0.235" stop-color="#0e0e0e"/><stop offset="0.26" stop-color="#000000"/><stop offset="1" stop-color="#000000"/></linearGradient>
<linearGradient id="e9" href="#lge"><stop offset="0" stop-color="#000000"/><stop offset="0.025" stop-color="#050505"/><stop offset="0.051" stop-color="#222222"/><stop offset="0.103" stop-color="#373737"/><stop offset="0.19" stop-color="#373737"/><stop offset="0.215" stop-color="#222222"/><stop offset="0.239" stop-color="#101010"/><stop offset="0.265" stop-color="#000000"/><stop offset="1" stop-color="#000000"/></linearGradient>
<linearGradient id="e10" href="#lge"><stop offset="0" stop-color="#000000"/><stop offset="0.025" stop-color="#060606"/><stop offset="0.055" stop-color="#282828"/><stop offset="0.109" stop-color="#404040"/><stop offset="0.197" stop-color="#404040"/><stop offset="0.222" stop-color="#282828"/><stop offset="0.242" stop-color="#131313"/><stop offset="0.272" stop-color="#000000"/><stop offset="1" stop-color="#000000"/></linearGradient>
<linearGradient id="e11" href="#lge"><stop offset="0" stop-color="#000000"/><stop offset="0.025" stop-color="#070707"/><stop offset="0.083" stop-color="#393939"/><stop offset="0.129" stop-color="#5b5b5b"/><stop offset="0.205" stop-color="#5b5b5b"/><stop offset="0.227" stop-color="#393939"/><stop offset="0.246" stop-color="#171717"/><stop offset="0.277" stop-color="#000000"/><stop offset="1" stop-color="#000000"/></linearGradient>
<linearGradient id="e12" href="#lge"><stop offset="0" stop-color="#010101"/><stop offset="0.026" stop-color="#080808"/><stop offset="0.119" stop-color="#505050"/><stop offset="0.151" stop-color="#818181"/><stop offset="0.211" stop-color="#818181"/><stop offset="0.231" stop-color="#505050"/><stop offset="0.251" stop-color="#1c1c1c"/><stop offset="0.282" stop-color="#000000"/><stop offset="1" stop-color="#000000"/></linearGradient>
<linearGradient id="e13" href="#lge"><stop offset="0" stop-color="#050505"/><stop offset="0.029" stop-color="#080808"/><stop offset="0.091" stop-color="#545454"/><stop offset="0.123" stop-color="#898989"/><stop offset="0.205" stop-color="#898989"/><stop offset="0.231" stop-color="#545454"/><stop offset="0.254" stop-color="#1c1c1c"/><stop offset="0.285" stop-color="#000000"/><stop offset="1" stop-color="#000000"/></linearGradient>
<linearGradient id="e14" href="#lge"><stop offset="0" stop-color="#0a0a0a"/><stop offset="0.029" stop-color="#0a0a0a"/><stop offset="0.071" stop-color="#565656"/><stop offset="0.102" stop-color="#8d8d8d"/><stop offset="0.198" stop-color="#8d8d8d"/><stop offset="0.229" stop-color="#565656"/><stop offset="0.255" stop-color="#1c1c1c"/><stop offset="0.286" stop-color="#000000"/><stop offset="1" stop-color="#000000"/></linearGradient>
<linearGradient id="e15" href="#lge"><stop offset="0" stop-color="#171717"/><stop offset="0.019" stop-color="#171717"/><stop offset="0.084" stop-color="#515151"/><stop offset="0.113" stop-color="#858585"/><stop offset="0.188" stop-color="#858585"/><stop offset="0.216" stop-color="#515151"/><stop offset="0.247" stop-color="#1c1c1c"/><stop offset="0.281" stop-color="#000000"/><stop offset="1" stop-color="#000000"/></linearGradient>
<linearGradient id="e16" href="#lge"><stop offset="0" stop-color="#242424"/><stop offset="0.008" stop-color="#242424"/><stop offset="0.097" stop-color="#4d4d4d"/><stop offset="0.123" stop-color="#7c7c7c"/><stop offset="0.177" stop-color="#7c7c7c"/><stop offset="0.203" stop-color="#4d4d4d"/><stop offset="0.239" stop-color="#1c1c1c"/><stop offset="0.276" stop-color="#000000"/><stop offset="1" stop-color="#000000"/></linearGradient>
<linearGradient id="e17" href="#lge"><stop offset="0" stop-color="#282828"/><stop offset="0.006" stop-color="#282828"/><stop offset="0.088" stop-color="#484848"/><stop offset="0.113" stop-color="#757575"/><stop offset="0.163" stop-color="#757575"/><stop offset="0.195" stop-color="#484848"/><stop offset="0.233" stop-color="#1c1c1c"/><stop offset="0.27" stop-color="#000000"/><stop offset="1" stop-color="#000000"/></linearGradient>
<linearGradient id="e18" href="#lge"><stop offset="0" stop-color="#2a2a2a"/><stop offset="0.006" stop-color="#2a2a2a"/><stop offset="0.073" stop-color="#444444"/><stop offset="0.098" stop-color="#6e6e6e"/><stop offset="0.148" stop-color="#6e6e6e"/><stop offset="0.189" stop-color="#444444"/><stop offset="0.227" stop-color="#1c1c1c"/><stop offset="0.264" stop-color="#000000"/><stop offset="1" stop-color="#000000"/></linearGradient>
<linearGradient id="e19" href="#lge"><stop offset="0" stop-color="#2b2b2b"/><stop offset="0.005" stop-color="#2b2b2b"/><stop offset="0.057" stop-color="#404040"/><stop offset="0.082" stop-color="#676767"/><stop offset="0.132" stop-color="#676767"/><stop offset="0.183" stop-color="#404040"/><stop offset="0.22" stop-color="#1c1c1c"/><stop offset="0.258" stop-color="#000000"/><stop offset="1" stop-color="#000000"/></linearGradient>
<linearGradient id="e20" href="#lge"><stop offset="0" stop-color="#2d2d2d"/><stop offset="0.005" stop-color="#2d2d2d"/><stop offset="0.042" stop-color="#3c3c3c"/><stop offset="0.067" stop-color="#606060"/><stop offset="0.117" stop-color="#606060"/><stop offset="0.177" stop-color="#3c3c3c"/><stop offset="0.214" stop-color="#1c1c1c"/><stop offset="0.252" stop-color="#000000"/><stop offset="1" stop-color="#000000"/></linearGradient>
<linearGradient id="e21" href="#lge"><stop offset="0" stop-color="#2f2f2f"/><stop offset="0.005" stop-color="#2f2f2f"/><stop offset="0.035" stop-color="#3a3a3a"/><stop offset="0.06" stop-color="#5e5e5e"/><stop offset="0.107" stop-color="#5e5e5e"/><stop offset="0.163" stop-color="#3a3a3a"/><stop offset="0.2" stop-color="#1c1c1c"/><stop offset="0.236" stop-color="#000000"/><stop offset="1" stop-color="#000000"/></linearGradient>
<linearGradient id="e22" href="#lge"><stop offset="0" stop-color="#303030"/><stop offset="0.004" stop-color="#303030"/><stop offset="0.032" stop-color="#3a3a3a"/><stop offset="0.057" stop-color="#5e5e5e"/><stop offset="0.1" stop-color="#5e5e5e"/><stop offset="0.146" stop-color="#3a3a3a"/><stop offset="0.181" stop-color="#1c1c1c"/><stop offset="0.216" stop-color="#000000"/><stop offset="1" stop-color="#000000"/></linearGradient>
<linearGradient id="e23" href="#lge"><stop offset="0" stop-color="#313131"/><stop offset="0.004" stop-color="#313131"/><stop offset="0.029" stop-color="#3a3a3a"/><stop offset="0.054" stop-color="#5e5e5e"/><stop offset="0.092" stop-color="#5e5e5e"/><stop offset="0.13" stop-color="#3a3a3a"/><stop offset="0.163" stop-color="#1c1c1c"/><stop offset="0.196" stop-color="#000000"/><stop offset="1" stop-color="#000000"/></linearGradient>
<linearGradient id="e24" href="#lge"><stop offset="0" stop-color="#333333"/><stop offset="0.004" stop-color="#333333"/><stop offset="0.026" stop-color="#3a3a3a"/><stop offset="0.051" stop-color="#5e5e5e"/><stop offset="0.084" stop-color="#5e5e5e"/><stop offset="0.113" stop-color="#3a3a3a"/><stop offset="0.145" stop-color="#1c1c1c"/><stop offset="0.177" stop-color="#000000"/><stop offset="1" stop-color="#000000"/></linearGradient>
<linearGradient id="e25" href="#lge"><stop offset="0" stop-color="#333333"/><stop offset="0.004" stop-color="#333333"/><stop offset="0.025" stop-color="#3a3a3a"/><stop offset="0.05" stop-color="#5e5e5e"/><stop offset="0.08" stop-color="#5e5e5e"/><stop offset="0.105" stop-color="#3a3a3a"/><stop offset="0.14" stop-color="#1c1c1c"/><stop offset="0.18" stop-color="#000000"/><stop offset="1" stop-color="#000000"/></linearGradient>
<linearGradient id="e26" href="#lge"><stop offset="0" stop-color="#333333"/><stop offset="0.004" stop-color="#333333"/><stop offset="0.025" stop-color="#3a3a3a"/><stop offset="0.05" stop-color="#5d5d5d"/><stop offset="0.078" stop-color="#5d5d5d"/><stop offset="0.103" stop-color="#3a3a3a"/><stop offset="0.145" stop-color="#1c1c1c"/><stop offset="0.198" stop-color="#000000"/><stop offset="1" stop-color="#000000"/></linearGradient>
<linearGradient id="e27" href="#lge"><stop offset="0" stop-color="#333333"/><stop offset="0.004" stop-color="#333333"/><stop offset="0.025" stop-color="#393939"/><stop offset="0.05" stop-color="#5c5c5c"/><stop offset="0.075" stop-color="#5c5c5c"/><stop offset="0.1" stop-color="#393939"/><stop offset="0.15" stop-color="#1c1c1c"/><stop offset="0.217" stop-color="#000000"/><stop offset="1" stop-color="#000000"/></linearGradient>
<linearGradient id="e28" href="#lge"><stop offset="0" stop-color="#383838"/><stop offset="0.004" stop-color="#383838"/><stop offset="0.025" stop-color="#3f3f3f"/><stop offset="0.05" stop-color="#666666"/><stop offset="0.074" stop-color="#666666"/><stop offset="0.098" stop-color="#3f3f3f"/><stop offset="0.144" stop-color="#1c1c1c"/><stop offset="0.203" stop-color="#000000"/><stop offset="1" stop-color="#000000"/></linearGradient>
<linearGradient id="e29" href="#lge"><stop offset="0" stop-color="#3e3e3e"/><stop offset="0.004" stop-color="#3e3e3e"/><stop offset="0.025" stop-color="#464646"/><stop offset="0.05" stop-color="#717171"/><stop offset="0.072" stop-color="#717171"/><stop offset="0.096" stop-color="#464646"/><stop offset="0.137" stop-color="#1c1c1c"/><stop offset="0.186" stop-color="#000000"/><stop offset="1" stop-color="#000000"/></linearGradient>
<linearGradient id="e30" href="#lge"><stop offset="0" stop-color="#444444"/><stop offset="0.004" stop-color="#444444"/><stop offset="0.025" stop-color="#4d4d4d"/><stop offset="0.05" stop-color="#7c7c7c"/><stop offset="0.071" stop-color="#7c7c7c"/><stop offset="0.093" stop-color="#4d4d4d"/><stop offset="0.129" stop-color="#1c1c1c"/><stop offset="0.169" stop-color="#000000"/><stop offset="1" stop-color="#000000"/></linearGradient>
<linearGradient id="e31" href="#lge"><stop offset="0" stop-color="#4a4a4a"/><stop offset="0.004" stop-color="#4a4a4a"/><stop offset="0.025" stop-color="#535353"/><stop offset="0.05" stop-color="#878787"/><stop offset="0.069" stop-color="#878787"/><stop offset="0.091" stop-color="#535353"/><stop offset="0.122" stop-color="#1c1c1c"/><stop offset="0.152" stop-color="#000000"/><stop offset="1" stop-color="#000000"/></linearGradient>
<linearGradient id="e32" href="#lge"><stop offset="0" stop-color="#505050"/><stop offset="0.004" stop-color="#505050"/><stop offset="0.022" stop-color="#535353"/><stop offset="0.044" stop-color="#868686"/><stop offset="0.064" stop-color="#868686"/><stop offset="0.083" stop-color="#535353"/><stop offset="0.114" stop-color="#1c1c1c"/><stop offset="0.142" stop-color="#000000"/><stop offset="1" stop-color="#000000"/></linearGradient>
<linearGradient id="e33" href="#lge"><stop offset="0" stop-color="#565656"/><stop offset="0.004" stop-color="#565656"/><stop offset="0.016" stop-color="#4b4b4b"/><stop offset="0.031" stop-color="#797979"/><stop offset="0.055" stop-color="#797979"/><stop offset="0.069" stop-color="#4b4b4b"/><stop offset="0.105" stop-color="#1c1c1c"/><stop offset="0.139" stop-color="#000000"/><stop offset="1" stop-color="#000000"/></linearGradient>
<linearGradient id="e34" href="#lge"><stop offset="0" stop-color="#5c5c5c"/><stop offset="0.004" stop-color="#5c5c5c"/><stop offset="0.011" stop-color="#494949"/><stop offset="0.022" stop-color="#767676"/><stop offset="0.047" stop-color="#767676"/><stop offset="0.062" stop-color="#494949"/><stop offset="0.098" stop-color="#1c1c1c"/><stop offset="0.136" stop-color="#000000"/><stop offset="1" stop-color="#000000"/></linearGradient>
<linearGradient id="e35" href="#lge"><stop offset="0" stop-color="#636363"/><stop offset="0.004" stop-color="#636363"/><stop offset="0.008" stop-color="#4d4d4d"/><stop offset="0.016" stop-color="#7c7c7c"/><stop offset="0.041" stop-color="#7c7c7c"/><stop offset="0.062" stop-color="#4d4d4d"/><stop offset="0.095" stop-color="#1c1c1c"/><stop offset="0.133" stop-color="#000000"/><stop offset="1" stop-color="#000000"/></linearGradient>
<linearGradient id="e36" href="#lge"><stop offset="0" stop-color="#666666"/><stop offset="0.004" stop-color="#666666"/><stop offset="0.006" stop-color="#4d4d4d"/><stop offset="0.013" stop-color="#7d7d7d"/><stop offset="0.037" stop-color="#7d7d7d"/><stop offset="0.062" stop-color="#4d4d4d"/><stop offset="0.093" stop-color="#1c1c1c"/><stop offset="0.129" stop-color="#000000"/><stop offset="1" stop-color="#000000"/></linearGradient>
<linearGradient id="e37" href="#lge"><stop offset="0" stop-color="#666666"/><stop offset="0.004" stop-color="#666666"/><stop offset="0.006" stop-color="#4a4a4a"/><stop offset="0.013" stop-color="#777777"/><stop offset="0.037" stop-color="#777777"/><stop offset="0.062" stop-color="#4a4a4a"/><stop offset="0.09" stop-color="#1c1c1c"/><stop offset="0.123" stop-color="#000000"/><stop offset="1" stop-color="#000000"/></linearGradient>
<linearGradient id="e38" href="#lge"><stop offset="0" stop-color="#666666"/><stop offset="0.004" stop-color="#666666"/><stop offset="0.006" stop-color="#474747"/><stop offset="0.013" stop-color="#727272"/><stop offset="0.037" stop-color="#727272"/><stop offset="0.062" stop-color="#474747"/><stop offset="0.088" stop-color="#1c1c1c"/><stop offset="0.118" stop-color="#000000"/><stop offset="1" stop-color="#000000"/></linearGradient>
<linearGradient id="e39" href="#lge"><stop offset="0" stop-color="#595959"/><stop offset="0.004" stop-color="#595959"/><stop offset="0.007" stop-color="#3f3f3f"/><stop offset="0.013" stop-color="#656565"/><stop offset="0.041" stop-color="#656565"/><stop offset="0.064" stop-color="#3f3f3f"/><stop offset="0.087" stop-color="#1a1a1a"/><stop offset="0.114" stop-color="#000000"/><stop offset="1" stop-color="#000000"/></linearGradient>
<linearGradient id="e40" href="#lge"><stop offset="0" stop-color="#474747"/><stop offset="0.004" stop-color="#474747"/><stop offset="0.007" stop-color="#353535"/><stop offset="0.014" stop-color="#565656"/><stop offset="0.045" stop-color="#565656"/><stop offset="0.066" stop-color="#353535"/><stop offset="0.087" stop-color="#181818"/><stop offset="0.11" stop-color="#000000"/><stop offset="1" stop-color="#000000"/></linearGradient>
<linearGradient id="e41" href="#lge"><stop offset="0" stop-color="#353535"/><stop offset="0.004" stop-color="#353535"/><stop offset="0.007" stop-color="#2c2c2c"/><stop offset="0.015" stop-color="#464646"/><stop offset="0.05" stop-color="#464646"/><stop offset="0.069" stop-color="#2c2c2c"/><stop offset="0.087" stop-color="#151515"/><stop offset="0.107" stop-color="#000000"/><stop offset="1" stop-color="#000000"/></linearGradient>
<linearGradient id="e42" href="#lge"><stop offset="0" stop-color="#232323"/><stop offset="0.004" stop-color="#232323"/><stop offset="0.01" stop-color="#1d1d1d"/><stop offset="0.019" stop-color="#2f2f2f"/><stop offset="0.056" stop-color="#2f2f2f"/><stop offset="0.072" stop-color="#1d1d1d"/><stop offset="0.087" stop-color="#0e0e0e"/><stop offset="0.106" stop-color="#000000"/><stop offset="1" stop-color="#000000"/></linearGradient>
<linearGradient id="e43" href="#lge"><stop offset="0" stop-color="#111111"/><stop offset="0.004" stop-color="#111111"/><stop offset="0.012" stop-color="#0e0e0e"/><stop offset="0.024" stop-color="#171717"/><stop offset="0.062" stop-color="#171717"/><stop offset="0.075" stop-color="#0e0e0e"/><stop offset="0.087" stop-color="#070707"/><stop offset="0.106" stop-color="#000000"/><stop offset="1" stop-color="#000000"/></linearGradient>
<linearGradient id="lgf" gradientUnits="userSpaceOnUse" x1="80.0" x2="496.6" y1="0" y2="0" spreadMethod="reflect"/>
<filter id="ff" filterUnits="userSpaceOnUse" x="-80" y="-80" width="680" height="1773" color-interpolation-filters="sRGB"><feGaussianBlur in="SourceGraphic" stdDeviation="3 10" result="F"/><feTurbulence type="fractalNoise" baseFrequency="0.05 0.013" numOctaves="2" seed="33" result="U"/><feColorMatrix in="U" type="matrix" values="0.3 0 0 0 0.35  0 1 0 0 0  0 0 1 0 0  0 0 0 0 1" result="V"/><feDisplacementMap in="F" in2="V" scale="120" xChannelSelector="R" yChannelSelector="G" result="D"/><feTurbulence type="fractalNoise" baseFrequency="0.085 0.021" numOctaves="2" seed="13" result="T"/><feColorMatrix in="T" type="matrix" values="2.4 0 0 0 -0.7  2.4 0 0 0 -0.7  2.4 0 0 0 -0.7  0 0 0 0 1" result="N"/><feComposite in="D" in2="N" operator="arithmetic" k1="0.45" k2="0.775" k3="0" k4="0" result="G"/><feComponentTransfer in="G"><feFuncR type="table" tableValues="0.522 0.565 0.655 0.754 0.850 0.897 0.915 0.932 0.937 0.941 0.950 0.959 0.969 0.980 0.991 0.976 0.948 0.870 0.794 0.742 0.691 0.644 0.605 0.565 0.534 0.506 0.478 0.450 0.399 0.343 0.275 0.184 0.164 0.180 0.201 0.224 0.226 0.225 0.224 0.221 0.214 0.206 0.199 0.191 0.181 0.172 0.167 0.165"/><feFuncG type="table" tableValues="0.082 0.096 0.107 0.116 0.120 0.146 0.186 0.225 0.285 0.346 0.423 0.502 0.581 0.650 0.719 0.827 0.917 0.887 0.858 0.840 0.823 0.809 0.800 0.791 0.788 0.786 0.785 0.784 0.784 0.784 0.777 0.759 0.688 0.588 0.508 0.435 0.400 0.372 0.343 0.319 0.303 0.286 0.270 0.255 0.242 0.228 0.208 0.184"/><feFuncB type="table" tableValues="0.106 0.116 0.129 0.140 0.147 0.147 0.144 0.141 0.138 0.134 0.127 0.120 0.113 0.095 0.076 0.089 0.107 0.136 0.167 0.206 0.246 0.289 0.341 0.392 0.448 0.505 0.563 0.621 0.705 0.793 0.866 0.916 0.894 0.833 0.775 0.719 0.694 0.674 0.655 0.640 0.632 0.624 0.615 0.603 0.587 0.570 0.537 0.494"/></feComponentTransfer></filter>
<clipPath id="cf"><rect x="259.9" y="0" width="261.4" height="1613.0"/></clipPath>
<linearGradient id="f0" href="#lgf"><stop offset="0" stop-color="#000000"/><stop offset="0.05" stop-color="#010101"/><stop offset="0.067" stop-color="#070707"/><stop offset="0.083" stop-color="#0c0c0c"/><stop offset="0.12" stop-color="#0c0c0c"/><stop offset="0.135" stop-color="#070707"/><stop offset="0.147" stop-color="#040404"/><stop offset="0.162" stop-color="#000000"/><stop offset="1" stop-color="#000000"/></linearGradient>
<linearGradient id="f1" href="#lgf"><stop offset="0" stop-color="#000000"/><stop offset="0.04" stop-color="#010101"/><stop offset="0.063" stop-color="#090909"/><stop offset="0.087" stop-color="#0e0e0e"/><stop offset="0.143" stop-color="#0e0e0e"/><stop offset="0.161" stop-color="#090909"/><stop offset="0.173" stop-color="#040404"/><stop offset="0.191" stop-color="#000000"/><stop offset="1" stop-color="#000000"/></linearGradient>
<linearGradient id="f2" href="#lgf"><stop offset="0" stop-color="#000000"/><stop offset="0.033" stop-color="#020202"/><stop offset="0.056" stop-color="#0a0a0a"/><stop offset="0.084" stop-color="#101010"/><stop offset="0.16" stop-color="#101010"/><stop offset="0.18" stop-color="#0a0a0a"/><stop offset="0.194" stop-color="#050505"/><stop offset="0.213" stop-color="#000000"/><stop offset="1" stop-color="#000000"/></linearGradient>
<linearGradient id="f3" href="#lgf"><stop offset="0" stop-color="#000000"/><stop offset="0.026" stop-color="#020202"/><stop offset="0.047" stop-color="#0b0b0b"/><stop offset="0.08" stop-color="#121212"/><stop offset="0.174" stop-color="#121212"/><stop offset="0.196" stop-color="#0b0b0b"/><stop offset="0.213" stop-color="#050505"/><stop offset="0.231" stop-color="#000000"/><stop offset="1" stop-color="#000000"/></linearGradient>
<linearGradient id="f4" href="#lgf"><stop offset="0" stop-color="#000000"/><stop offset="0.019" stop-color="#020202"/><stop offset="0.037" stop-color="#0c0c0c"/><stop offset="0.075" stop-color="#131313"/><stop offset="0.188" stop-color="#131313"/><stop offset="0.212" stop-color="#0c0c0c"/><stop offset="0.231" stop-color="#060606"/><stop offset="0.25" stop-color="#000000"/><stop offset="1" stop-color="#000000"/></linearGradient>
<linearGradient id="f5" href="#lgf"><stop offset="0" stop-color="#000000"/><stop offset="0.017" stop-color="#020202"/><stop offset="0.042" stop-color="#0d0d0d"/><stop offset="0.093" stop-color="#151515"/><stop offset="0.196" stop-color="#151515"/><stop offset="0.221" stop-color="#0d0d0d"/><stop offset="0.24" stop-color="#060606"/><stop offset="0.261" stop-color="#000000"/><stop offset="1" stop-color="#000000"/></linearGradient>
<linearGradient id="f6" href="#lgf"><stop offset="0" stop-color="#000000"/><stop offset="0.016" stop-color="#020202"/><stop offset="0.046" stop-color="#0f0f0f"/><stop offset="0.111" stop-color="#181818"/><stop offset="0.205" stop-color="#181818"/><stop offset="0.23" stop-color="#0f0f0f"/><stop offset="0.249" stop-color="#070707"/><stop offset="0.272" stop-color="#000000"/><stop offset="1" stop-color="#000000"/></linearGradient>
<linearGradient id="f7" href="#lgf"><stop offset="0" stop-color="#000000"/><stop offset="0.015" stop-color="#030303"/><stop offset="0.05" stop-color="#101010"/><stop offset="0.123" stop-color="#1a1a1a"/><stop offset="0.214" stop-color="#1a1a1a"/><stop offset="0.239" stop-color="#101010"/><stop offset="0.258" stop-color="#080808"/><stop offset="0.283" stop-color="#000000"/><stop offset="1" stop-color="#000000"/></linearGradient>
<linearGradient id="f8" href="#lgf"><stop offset="0" stop-color="#000000"/><stop offset="0.015" stop-color="#030303"/><stop offset="0.05" stop-color="#111111"/><stop offset="0.114" stop-color="#1c1c1c"/><stop offset="0.224" stop-color="#1c1c1c"/><stop offset="0.249" stop-color="#111111"/><stop offset="0.265" stop-color="#080808"/><stop offset="0.29" stop-color="#000000"/><stop offset="1" stop-color="#000000"/></linearGradient>
<linearGradient id="f9" href="#lgf"><stop offset="0" stop-color="#000000"/><stop offset="0.015" stop-color="#030303"/><stop offset="0.05" stop-color="#121212"/><stop offset="0.105" stop-color="#1e1e1e"/><stop offset="0.233" stop-color="#1e1e1e"/><stop offset="0.258" stop-color="#121212"/><stop offset="0.272" stop-color="#090909"/><stop offset="0.297" stop-color="#000000"/><stop offset="1" stop-color="#000000"/></linearGradient>
<linearGradient id="f10" href="#lgf"><stop offset="0" stop-color="#000000"/><stop offset="0.015" stop-color="#030303"/><stop offset="0.052" stop-color="#141414"/><stop offset="0.109" stop-color="#202020"/><stop offset="0.237" stop-color="#202020"/><stop offset="0.265" stop-color="#141414"/><stop offset="0.28" stop-color="#0a0a0a"/><stop offset="0.305" stop-color="#000000"/><stop offset="1" stop-color="#000000"/></linearGradient>
<linearGradient id="f11" href="#lgf"><stop offset="0" stop-color="#000000"/><stop offset="0.014" stop-color="#040404"/><stop offset="0.057" stop-color="#161616"/><stop offset="0.128" stop-color="#242424"/><stop offset="0.237" stop-color="#242424"/><stop offset="0.269" stop-color="#161616"/><stop offset="0.289" stop-color="#0b0b0b"/><stop offset="0.314" stop-color="#000000"/><stop offset="1" stop-color="#000000"/></linearGradient>
<linearGradient id="f12" href="#lgf"><stop offset="0" stop-color="#000000"/><stop offset="0.013" stop-color="#040404"/><stop offset="0.062" stop-color="#191919"/><stop offset="0.146" stop-color="#282828"/><stop offset="0.237" stop-color="#282828"/><stop offset="0.274" stop-color="#191919"/><stop offset="0.298" stop-color="#0c0c0c"/><stop offset="0.323" stop-color="#000000"/><stop offset="1" stop-color="#000000"/></linearGradient>
<linearGradient id="f13" href="#lgf"><stop offset="0" stop-color="#040404"/><stop offset="0.012" stop-color="#090909"/><stop offset="0.059" stop-color="#1b1b1b"/><stop offset="0.135" stop-color="#2b2b2b"/><stop offset="0.241" stop-color="#2b2b2b"/><stop offset="0.279" stop-color="#1b1b1b"/><stop offset="0.304" stop-color="#0d0d0d"/><stop offset="0.331" stop-color="#000000"/><stop offset="1" stop-color="#000000"/></linearGradient>
<linearGradient id="f14" href="#lgf"><stop offset="0" stop-color="#090909"/><stop offset="0.011" stop-color="#0f0f0f"/><stop offset="0.054" stop-color="#1c1c1c"/><stop offset="0.117" stop-color="#2e2e2e"/><stop offset="0.246" stop-color="#2e2e2e"/><stop offset="0.283" stop-color="#1c1c1c"/><stop offset="0.308" stop-color="#0e0e0e"/><stop offset="0.338" stop-color="#000000"/><stop offset="1" stop-color="#000000"/></linearGradient>
<linearGradient id="f15" href="#lgf"><stop offset="0" stop-color="#0d0d0d"/><stop offset="0.01" stop-color="#151515"/><stop offset="0.05" stop-color="#1e1e1e"/><stop offset="0.1" stop-color="#313131"/><stop offset="0.251" stop-color="#313131"/><stop offset="0.288" stop-color="#1e1e1e"/><stop offset="0.313" stop-color="#0f0f0f"/><stop offset="0.345" stop-color="#000000"/><stop offset="1" stop-color="#000000"/></linearGradient>
<linearGradient id="f16" href="#lgf"><stop offset="0" stop-color="#121212"/><stop offset="0.009" stop-color="#191919"/><stop offset="0.047" stop-color="#212121"/><stop offset="0.095" stop-color="#353535"/><stop offset="0.26" stop-color="#353535"/><stop offset="0.298" stop-color="#212121"/><stop offset="0.323" stop-color="#101010"/><stop offset="0.354" stop-color="#000000"/><stop offset="1" stop-color="#000000"/></linearGradient>
<linearGradient id="f17" href="#lgf"><stop offset="0" stop-color="#171717"/><stop offset="0.008" stop-color="#1c1c1c"/><stop offset="0.045" stop-color="#232323"/><stop offset="0.09" stop-color="#383838"/><stop offset="0.269" stop-color="#383838"/><stop offset="0.307" stop-color="#232323"/><stop offset="0.332" stop-color="#111111"/><stop offset="0.363" stop-color="#000000"/><stop offset="1" stop-color="#000000"/></linearGradient>
<linearGradient id="f18" href="#lgf"><stop offset="0" stop-color="#1b1b1b"/><stop offset="0.007" stop-color="#202020"/><stop offset="0.043" stop-color="#252525"/><stop offset="0.087" stop-color="#3c3c3c"/><stop offset="0.279" stop-color="#3c3c3c"/><stop offset="0.315" stop-color="#252525"/><stop offset="0.34" stop-color="#121212"/><stop offset="0.372" stop-color="#000000"/><stop offset="1" stop-color="#000000"/></linearGradient>
<linearGradient id="f19" href="#lgf"><stop offset="0" stop-color="#1f1f1f"/><stop offset="0.007" stop-color="#232323"/><stop offset="0.041" stop-color="#282828"/><stop offset="0.087" stop-color="#404040"/><stop offset="0.288" stop-color="#404040"/><stop offset="0.322" stop-color="#282828"/><stop offset="0.347" stop-color="#131313"/><stop offset="0.378" stop-color="#000000"/><stop offset="1" stop-color="#000000"/></linearGradient>
<linearGradient id="f20" href="#lgf"><stop offset="0" stop-color="#232323"/><stop offset="0.006" stop-color="#252525"/><stop offset="0.038" stop-color="#2a2a2a"/><stop offset="0.087" stop-color="#444444"/><stop offset="0.297" stop-color="#444444"/><stop offset="0.329" stop-color="#2a2a2a"/><stop offset="0.354" stop-color="#141414"/><stop offset="0.385" stop-color="#000000"/><stop offset="1" stop-color="#000000"/></linearGradient>
<linearGradient id="f21" href="#lgf"><stop offset="0" stop-color="#262626"/><stop offset="0.006" stop-color="#292929"/><stop offset="0.046" stop-color="#2e2e2e"/><stop offset="0.112" stop-color="#4a4a4a"/><stop offset="0.304" stop-color="#4a4a4a"/><stop offset="0.337" stop-color="#2e2e2e"/><stop offset="0.362" stop-color="#161616"/><stop offset="0.396" stop-color="#000000"/><stop offset="1" stop-color="#000000"/></linearGradient>
<linearGradient id="f22" href="#lgf"><stop offset="0" stop-color="#2a2a2a"/><stop offset="0.006" stop-color="#2c2c2c"/><stop offset="0.058" stop-color="#323232"/><stop offset="0.148" stop-color="#515151"/><stop offset="0.31" stop-color="#515151"/><stop offset="0.346" stop-color="#323232"/><stop offset="0.371" stop-color="#181818"/><stop offset="0.408" stop-color="#000000"/><stop offset="1" stop-color="#000000"/></linearGradient>
<linearGradient id="f23" href="#lgf"><stop offset="0" stop-color="#2e2e2e"/><stop offset="0.006" stop-color="#2f2f2f"/><stop offset="0.062" stop-color="#373737"/><stop offset="0.155" stop-color="#585858"/><stop offset="0.309" stop-color="#585858"/><stop offset="0.348" stop-color="#373737"/><stop offset="0.377" stop-color="#1a1a1a"/><stop offset="0.416" stop-color="#000000"/><stop offset="1" stop-color="#000000"/></linearGradient>
<linearGradient id="f24" href="#lgf"><stop offset="0" stop-color="#313131"/><stop offset="0.006" stop-color="#323232"/><stop offset="0.062" stop-color="#3a3a3a"/><stop offset="0.142" stop-color="#5e5e5e"/><stop offset="0.302" stop-color="#5e5e5e"/><stop offset="0.345" stop-color="#3a3a3a"/><stop offset="0.38" stop-color="#1b1b1b"/><stop offset="0.422" stop-color="#000000"/><stop offset="1" stop-color="#000000"/></linearGradient>
<linearGradient id="f25" href="#lgf"><stop offset="0" stop-color="#343434"/><stop offset="0.006" stop-color="#343434"/><stop offset="0.058" stop-color="#3d3d3d"/><stop offset="0.129" stop-color="#636363"/><stop offset="0.303" stop-color="#636363"/><stop offset="0.346" stop-color="#3d3d3d"/><stop offset="0.384" stop-color="#1c1c1c"/><stop offset="0.428" stop-color="#000000"/><stop offset="1" stop-color="#000000"/></linearGradient>
<linearGradient id="f26" href="#lgf"><stop offset="0" stop-color="#363636"/><stop offset="0.006" stop-color="#363636"/><stop offset="0.052" stop-color="#3f3f3f"/><stop offset="0.116" stop-color="#656565"/><stop offset="0.307" stop-color="#656565"/><stop offset="0.351" stop-color="#3f3f3f"/><stop offset="0.388" stop-color="#1c1c1c"/><stop offset="0.432" stop-color="#000000"/><stop offset="1" stop-color="#000000"/></linearGradient>
<linearGradient id="f27" href="#lgf"><stop offset="0" stop-color="#383838"/><stop offset="0.006" stop-color="#383838"/><stop offset="0.045" stop-color="#404040"/><stop offset="0.103" stop-color="#686868"/><stop offset="0.312" stop-color="#686868"/><stop offset="0.355" stop-color="#404040"/><stop offset="0.393" stop-color="#1c1c1c"/><stop offset="0.437" stop-color="#000000"/><stop offset="1" stop-color="#000000"/></linearGradient>
<linearGradient id="f28" href="#lgf"><stop offset="0" stop-color="#3a3a3a"/><stop offset="0.006" stop-color="#3a3a3a"/><stop offset="0.039" stop-color="#434343"/><stop offset="0.09" stop-color="#6c6c6c"/><stop offset="0.321" stop-color="#6c6c6c"/><stop offset="0.364" stop-color="#434343"/><stop offset="0.401" stop-color="#1c1c1c"/><stop offset="0.446" stop-color="#010101"/><stop offset="1" stop-color="#010101"/></linearGradient>
<linearGradient id="f29" href="#lgf"><stop offset="0" stop-color="#3c3c3c"/><stop offset="0.006" stop-color="#3c3c3c"/><stop offset="0.034" stop-color="#454545"/><stop offset="0.077" stop-color="#6f6f6f"/><stop offset="0.332" stop-color="#6f6f6f"/><stop offset="0.373" stop-color="#454545"/><stop offset="0.41" stop-color="#1c1c1c"/><stop offset="0.457" stop-color="#010101"/><stop offset="1" stop-color="#010101"/></linearGradient>
<linearGradient id="f30" href="#lgf"><stop offset="0" stop-color="#3e3e3e"/><stop offset="0.005" stop-color="#3e3e3e"/><stop offset="0.028" stop-color="#474747"/><stop offset="0.064" stop-color="#737373"/><stop offset="0.343" stop-color="#737373"/><stop offset="0.382" stop-color="#474747"/><stop offset="0.419" stop-color="#1c1c1c"/><stop offset="0.468" stop-color="#020202"/><stop offset="1" stop-color="#020202"/></linearGradient>
<linearGradient id="f31" href="#lgf"><stop offset="0" stop-color="#444444"/><stop offset="0.005" stop-color="#444444"/><stop offset="0.023" stop-color="#4a4a4a"/><stop offset="0.052" stop-color="#777777"/><stop offset="0.35" stop-color="#777777"/><stop offset="0.388" stop-color="#4a4a4a"/><stop offset="0.426" stop-color="#1c1c1c"/><stop offset="0.477" stop-color="#030303"/><stop offset="1" stop-color="#030303"/></linearGradient>
<linearGradient id="f32" href="#lgf"><stop offset="0" stop-color="#505050"/><stop offset="0.004" stop-color="#505050"/><stop offset="0.018" stop-color="#4d4d4d"/><stop offset="0.043" stop-color="#7c7c7c"/><stop offset="0.35" stop-color="#7c7c7c"/><stop offset="0.388" stop-color="#4d4d4d"/><stop offset="0.428" stop-color="#1c1c1c"/><stop offset="0.48" stop-color="#050505"/><stop offset="1" stop-color="#050505"/></linearGradient>
<linearGradient id="f33" href="#lgf"><stop offset="0" stop-color="#5c5c5c"/><stop offset="0.004" stop-color="#5c5c5c"/><stop offset="0.012" stop-color="#505050"/><stop offset="0.034" stop-color="#808080"/><stop offset="0.35" stop-color="#808080"/><stop offset="0.388" stop-color="#505050"/><stop offset="0.43" stop-color="#1c1c1c"/><stop offset="0.484" stop-color="#060606"/><stop offset="1" stop-color="#060606"/></linearGradient>
<linearGradient id="f34" href="#lgf"><stop offset="0" stop-color="#676767"/><stop offset="0.004" stop-color="#676767"/><stop offset="0.007" stop-color="#525252"/><stop offset="0.025" stop-color="#868686"/><stop offset="0.348" stop-color="#868686"/><stop offset="0.388" stop-color="#525252"/><stop offset="0.432" stop-color="#1c1c1c"/><stop offset="0.488" stop-color="#080808"/><stop offset="1" stop-color="#080808"/></linearGradient>
<linearGradient id="f35" href="#lgf"><stop offset="0" stop-color="#737373"/><stop offset="0.004" stop-color="#737373"/><stop offset="0.007" stop-color="#555555"/><stop offset="0.022" stop-color="#8f8f8f"/><stop offset="0.33" stop-color="#8f8f8f"/><stop offset="0.388" stop-color="#555555"/><stop offset="0.435" stop-color="#1c1c1c"/><stop offset="0.494" stop-color="#080808"/><stop offset="1" stop-color="#080808"/></linearGradient>
<linearGradient id="f36" href="#lgf"><stop offset="0" stop-color="#808080"/><stop offset="0.004" stop-color="#808080"/><stop offset="0.007" stop-color="#575757"/><stop offset="0.019" stop-color="#999999"/><stop offset="0.312" stop-color="#999999"/><stop offset="0.388" stop-color="#575757"/><stop offset="0.438" stop-color="#1c1c1c"/><stop offset="0.5" stop-color="#080808"/><stop offset="1" stop-color="#080808"/></linearGradient>
<linearGradient id="f37" href="#lgf"><stop offset="0" stop-color="#8e8e8e"/><stop offset="0.004" stop-color="#8e8e8e"/><stop offset="0.007" stop-color="#575757"/><stop offset="0.019" stop-color="#aaaaaa"/><stop offset="0.292" stop-color="#aaaaaa"/><stop offset="0.391" stop-color="#575757"/><stop offset="0.441" stop-color="#1c1c1c"/><stop offset="0.5" stop-color="#080808"/><stop offset="1" stop-color="#080808"/></linearGradient>
<linearGradient id="f38" href="#lgf"><stop offset="0" stop-color="#999999"/><stop offset="0.004" stop-color="#999999"/><stop offset="0.007" stop-color="#575757"/><stop offset="0.019" stop-color="#b9b9b9"/><stop offset="0.275" stop-color="#b9b9b9"/><stop offset="0.394" stop-color="#575757"/><stop offset="0.444" stop-color="#1c1c1c"/><stop offset="0.5" stop-color="#080808"/><stop offset="1" stop-color="#080808"/></linearGradient>
<linearGradient id="f39" href="#lgf"><stop offset="0" stop-color="#999999"/><stop offset="0.004" stop-color="#999999"/><stop offset="0.007" stop-color="#575757"/><stop offset="0.019" stop-color="#c2c2c2"/><stop offset="0.275" stop-color="#c2c2c2"/><stop offset="0.394" stop-color="#575757"/><stop offset="0.444" stop-color="#1c1c1c"/><stop offset="0.5" stop-color="#080808"/><stop offset="1" stop-color="#080808"/></linearGradient>
<linearGradient id="f40" href="#lgf"><stop offset="0" stop-color="#999999"/><stop offset="0.004" stop-color="#999999"/><stop offset="0.007" stop-color="#575757"/><stop offset="0.019" stop-color="#c5c5c5"/><stop offset="0.267" stop-color="#c5c5c5"/><stop offset="0.396" stop-color="#575757"/><stop offset="0.446" stop-color="#1c1c1c"/><stop offset="0.5" stop-color="#080808"/><stop offset="1" stop-color="#080808"/></linearGradient>
<linearGradient id="f41" href="#lgf"><stop offset="0" stop-color="#999999"/><stop offset="0.004" stop-color="#999999"/><stop offset="0.007" stop-color="#575757"/><stop offset="0.019" stop-color="#c2c2c2"/><stop offset="0.252" stop-color="#c2c2c2"/><stop offset="0.4" stop-color="#575757"/><stop offset="0.45" stop-color="#1c1c1c"/><stop offset="0.5" stop-color="#080808"/><stop offset="1" stop-color="#080808"/></linearGradient>
<linearGradient id="f42" href="#lgf"><stop offset="0" stop-color="#8b8b8b"/><stop offset="0.004" stop-color="#8b8b8b"/><stop offset="0.007" stop-color="#575757"/><stop offset="0.019" stop-color="#afafaf"/><stop offset="0.25" stop-color="#afafaf"/><stop offset="0.393" stop-color="#575757"/><stop offset="0.437" stop-color="#1c1c1c"/><stop offset="0.487" stop-color="#080808"/><stop offset="1" stop-color="#080808"/></linearGradient>
<linearGradient id="f43" href="#lgf"><stop offset="0" stop-color="#7e7e7e"/><stop offset="0.004" stop-color="#7e7e7e"/><stop offset="0.007" stop-color="#565656"/><stop offset="0.019" stop-color="#9b9b9b"/><stop offset="0.242" stop-color="#9b9b9b"/><stop offset="0.382" stop-color="#565656"/><stop offset="0.421" stop-color="#1c1c1c"/><stop offset="0.473" stop-color="#070707"/><stop offset="1" stop-color="#070707"/></linearGradient>
<linearGradient id="f44" href="#lgf"><stop offset="0" stop-color="#787878"/><stop offset="0.004" stop-color="#787878"/><stop offset="0.007" stop-color="#525252"/><stop offset="0.019" stop-color="#8d8d8d"/><stop offset="0.2" stop-color="#8d8d8d"/><stop offset="0.352" stop-color="#525252"/><stop offset="0.404" stop-color="#1c1c1c"/><stop offset="0.461" stop-color="#060606"/><stop offset="1" stop-color="#060606"/></linearGradient>
<linearGradient id="f45" href="#lgf"><stop offset="0" stop-color="#727272"/><stop offset="0.004" stop-color="#727272"/><stop offset="0.007" stop-color="#4f4f4f"/><stop offset="0.019" stop-color="#7f7f7f"/><stop offset="0.161" stop-color="#7f7f7f"/><stop offset="0.32" stop-color="#4f4f4f"/><stop offset="0.385" stop-color="#1c1c1c"/><stop offset="0.448" stop-color="#050505"/><stop offset="1" stop-color="#050505"/></linearGradient>
<linearGradient id="f46" href="#lgf"><stop offset="0" stop-color="#6a6a6a"/><stop offset="0.004" stop-color="#6a6a6a"/><stop offset="0.007" stop-color="#4a4a4a"/><stop offset="0.019" stop-color="#777777"/><stop offset="0.145" stop-color="#777777"/><stop offset="0.265" stop-color="#4a4a4a"/><stop offset="0.362" stop-color="#1c1c1c"/><stop offset="0.424" stop-color="#030303"/><stop offset="1" stop-color="#030303"/></linearGradient>
<linearGradient id="f47" href="#lgf"><stop offset="0" stop-color="#666666"/><stop offset="0.004" stop-color="#666666"/><stop offset="0.007" stop-color="#464646"/><stop offset="0.019" stop-color="#717171"/><stop offset="0.131" stop-color="#717171"/><stop offset="0.219" stop-color="#464646"/><stop offset="0.344" stop-color="#1c1c1c"/><stop offset="0.403" stop-color="#020202"/><stop offset="1" stop-color="#020202"/></linearGradient>
<linearGradient id="f48" href="#lgf"><stop offset="0" stop-color="#666666"/><stop offset="0.004" stop-color="#666666"/><stop offset="0.007" stop-color="#444444"/><stop offset="0.019" stop-color="#6d6d6d"/><stop offset="0.119" stop-color="#6d6d6d"/><stop offset="0.181" stop-color="#444444"/><stop offset="0.331" stop-color="#1c1c1c"/><stop offset="0.384" stop-color="#010101"/><stop offset="1" stop-color="#010101"/></linearGradient>
<linearGradient id="f49" href="#lgf"><stop offset="0" stop-color="#666666"/><stop offset="0.004" stop-color="#666666"/><stop offset="0.007" stop-color="#424242"/><stop offset="0.019" stop-color="#6b6b6b"/><stop offset="0.113" stop-color="#6b6b6b"/><stop offset="0.163" stop-color="#424242"/><stop offset="0.325" stop-color="#1c1c1c"/><stop offset="0.375" stop-color="#000000"/><stop offset="1" stop-color="#000000"/></linearGradient>
</defs>
<path d="M20 133.5 H2147" stroke="#efefef" stroke-width="1.5" fill="none"/>
<path d="M30.5 4389 V2370.5 H318.5 V2420.5 H2148 M30 2503.5 H285" stroke="#efefef" stroke-width="1.5" fill="none"/>
<svg x="358.0" y="245.8" width="553.0" height="1711.2" viewBox="0 0 553.0 1711.2" overflow="hidden"><rect width="553.0" height="1711.2" fill="#85151b"/><g clip-path="url(#ca)"><g id="ha" filter="url(#fa)"><g transform="translate(196.5 0)"><g style="--w:436"><rect width="436" y="1744.9" height="35.2" fill="#000000"/><rect width="436" y="1710.7" height="35.2" fill="#000000"/><rect width="436" y="1676.5" height="35.2" fill="#000000"/><rect width="436" y="1642.3" height="35.2" fill="#000000"/><rect width="436" y="1608.0" height="35.2" fill="url(#a0)"/><rect width="436" y="1573.8" height="35.2" fill="url(#a1)"/><rect width="436" y="1539.6" height="35.2" fill="url(#a2)"/><rect width="436" y="1505.4" height="35.2" fill="url(#a3)"/><rect width="436" y="1471.1" height="35.2" fill="url(#a4)"/><rect width="436" y="1436.9" height="35.2" fill="url(#a5)"/><rect width="436" y="1402.7" height="35.2" fill="url(#a6)"/><rect width="436" y="1368.5" height="35.2" fill="url(#a7)"/><rect width="436" y="1334.2" height="35.2" fill="url(#a8)"/><rect width="436" y="1300.0" height="35.2" fill="url(#a9)"/><rect width="436" y="1265.8" height="35.2" fill="url(#a10)"/><rect width="436" y="1231.6" height="35.2" fill="url(#a11)"/><rect width="436" y="1197.3" height="35.2" fill="url(#a12)"/><rect width="436" y="1163.1" height="35.2" fill="url(#a13)"/><rect width="436" y="1128.9" height="35.2" fill="url(#a14)"/><rect width="436" y="1094.7" height="35.2" fill="url(#a15)"/><rect width="436" y="1060.4" height="35.2" fill="url(#a16)"/><rect width="436" y="1026.2" height="35.2" fill="url(#a17)"/><rect width="436" y="992.0" height="35.2" fill="url(#a18)"/><rect width="436" y="957.8" height="35.2" fill="url(#a19)"/><rect width="436" y="923.5" height="35.2" fill="url(#a20)"/><rect width="436" y="889.3" height="35.2" fill="url(#a21)"/><rect width="436" y="855.1" height="35.2" fill="url(#a22)"/><rect width="436" y="820.9" height="35.2" fill="url(#a23)"/><rect width="436" y="786.7" height="35.2" fill="url(#a24)"/><rect width="436" y="752.4" height="35.2" fill="url(#a25)"/><rect width="436" y="718.2" height="35.2" fill="url(#a26)"/><rect width="436" y="684.0" height="35.2" fill="url(#a27)"/><rect width="436" y="649.8" height="35.2" fill="url(#a28)"/><rect width="436" y="615.5" height="35.2" fill="url(#a29)"/><rect width="436" y="581.3" height="35.2" fill="url(#a30)"/><rect width="436" y="547.1" height="35.2" fill="url(#a31)"/><rect width="436" y="512.9" height="35.2" fill="url(#a32)"/><rect width="436" y="478.6" height="35.2" fill="url(#a33)"/><rect width="436" y="444.4" height="35.2" fill="url(#a34)"/><rect width="436" y="410.2" height="35.2" fill="url(#a35)"/><rect width="436" y="376.0" height="35.2" fill="url(#a36)"/><rect width="436" y="341.7" height="35.2" fill="url(#a37)"/><rect width="436" y="307.5" height="35.2" fill="url(#a38)"/><rect width="436" y="273.3" height="35.2" fill="url(#a39)"/><rect width="436" y="239.1" height="35.2" fill="url(#a40)"/><rect width="436" y="204.8" height="35.2" fill="url(#a41)"/><rect width="436" y="170.6" height="35.2" fill="url(#a42)"/><rect width="436" y="136.4" height="35.2" fill="url(#a43)"/><rect width="436" y="102.2" height="35.2" fill="url(#a44)"/><rect width="436" y="67.9" height="35.2" fill="url(#a45)"/><rect width="436" y="33.7" height="35.2" fill="url(#a46)"/><rect width="436" y="-0.5" height="35.2" fill="url(#a47)"/><rect width="436" y="-34.7" height="35.2" fill="url(#a48)"/><rect width="436" y="-68.9" height="35.2" fill="url(#a48)"/><rect width="436" y="-103.2" height="35.2" fill="url(#a48)"/></g></g></g></g><g transform="translate(553.0 0) scale(-1 1)"><g clip-path="url(#ca)"><use href="#ha"/></g></g></svg>
<svg x="911.0" y="245.8" width="554.0" height="1711.2" viewBox="0 0 554.0 1711.2" overflow="hidden"><rect width="554.0" height="1711.2" fill="#85151b"/><g clip-path="url(#cb)"><g id="hb" filter="url(#fb)"><g transform="translate(197.0 0)"><g style="--w:437"><rect width="437" y="1744.9" height="35.2" fill="#000000"/><rect width="437" y="1710.7" height="35.2" fill="#000000"/><rect width="437" y="1676.5" height="35.2" fill="#000000"/><rect width="437" y="1642.3" height="35.2" fill="#000000"/><rect width="437" y="1608.0" height="35.2" fill="#000000"/><rect width="437" y="1573.8" height="35.2" fill="#000000"/><rect width="437" y="1539.6" height="35.2" fill="#000000"/><rect width="437" y="1505.4" height="35.2" fill="#000000"/><rect width="437" y="1471.1" height="35.2" fill="#000000"/><rect width="437" y="1436.9" height="35.2" fill="#000000"/><rect width="437" y="1402.7" height="35.2" fill="#000000"/><rect width="437" y="1368.5" height="35.2" fill="#000000"/><rect width="437" y="1334.2" height="35.2" fill="#000000"/><rect width="437" y="1300.0" height="35.2" fill="url(#b0)"/><rect width="437" y="1265.8" height="35.2" fill="url(#b1)"/><rect width="437" y="1231.6" height="35.2" fill="url(#b2)"/><rect width="437" y="1197.3" height="35.2" fill="url(#b3)"/><rect width="437" y="1163.1" height="35.2" fill="url(#b4)"/><rect width="437" y="1128.9" height="35.2" fill="url(#b5)"/><rect width="437" y="1094.7" height="35.2" fill="url(#b6)"/><rect width="437" y="1060.4" height="35.2" fill="url(#b7)"/><rect width="437" y="1026.2" height="35.2" fill="url(#b8)"/><rect width="437" y="992.0" height="35.2" fill="url(#b9)"/><rect width="437" y="957.8" height="35.2" fill="url(#b10)"/><rect width="437" y="923.5" height="35.2" fill="url(#b11)"/><rect width="437" y="889.3" height="35.2" fill="url(#b12)"/><rect width="437" y="855.1" height="35.2" fill="url(#b13)"/><rect width="437" y="820.9" height="35.2" fill="url(#b14)"/><rect width="437" y="786.7" height="35.2" fill="url(#b15)"/><rect width="437" y="752.4" height="35.2" fill="url(#b16)"/><rect width="437" y="718.2" height="35.2" fill="url(#b17)"/><rect width="437" y="684.0" height="35.2" fill="url(#b18)"/><rect width="437" y="649.8" height="35.2" fill="url(#b19)"/><rect width="437" y="615.5" height="35.2" fill="url(#b20)"/><rect width="437" y="581.3" height="35.2" fill="url(#b21)"/><rect width="437" y="547.1" height="35.2" fill="url(#b22)"/><rect width="437" y="512.9" height="35.2" fill="url(#b23)"/><rect width="437" y="478.6" height="35.2" fill="url(#b24)"/><rect width="437" y="444.4" height="35.2" fill="url(#b25)"/><rect width="437" y="410.2" height="35.2" fill="url(#b26)"/><rect width="437" y="376.0" height="35.2" fill="url(#b27)"/><rect width="437" y="341.7" height="35.2" fill="url(#b28)"/><rect width="437" y="307.5" height="35.2" fill="url(#b29)"/><rect width="437" y="273.3" height="35.2" fill="url(#b30)"/><rect width="437" y="239.1" height="35.2" fill="url(#b31)"/><rect width="437" y="204.8" height="35.2" fill="url(#b32)"/><rect width="437" y="170.6" height="35.2" fill="url(#b33)"/><rect width="437" y="136.4" height="35.2" fill="url(#b34)"/><rect width="437" y="102.2" height="35.2" fill="url(#b35)"/><rect width="437" y="67.9" height="35.2" fill="url(#b36)"/><rect width="437" y="33.7" height="35.2" fill="url(#b37)"/><rect width="437" y="-0.5" height="35.2" fill="url(#b38)"/><rect width="437" y="-34.7" height="35.2" fill="url(#b39)"/><rect width="437" y="-68.9" height="35.2" fill="url(#b39)"/><rect width="437" y="-103.2" height="35.2" fill="url(#b39)"/><ellipse cx="164.2" cy="1403.2" rx="6.4" ry="15.3" fill="#fff" fill-opacity="0.40"/><ellipse cx="182.5" cy="1404.9" rx="5.9" ry="15.3" fill="#fff" fill-opacity="0.31"/><ellipse cx="174.2" cy="1430.6" rx="5.9" ry="13.6" fill="#fff" fill-opacity="0.21"/><ellipse cx="168.6" cy="1471.6" rx="5.3" ry="13.6" fill="#fff" fill-opacity="0.10"/><ellipse cx="171.4" cy="1505.9" rx="5.9" ry="15.3" fill="#fff" fill-opacity="0.14"/><ellipse cx="169.7" cy="1540.1" rx="5.3" ry="15.3" fill="#fff" fill-opacity="0.11"/><ellipse cx="171.4" cy="1567.5" rx="5.3" ry="15.3" fill="#fff" fill-opacity="0.10"/><ellipse cx="149.2" cy="1238.9" rx="7.5" ry="22.1" fill="#fff" fill-opacity="0.35"/></g></g></g></g><g transform="translate(554.0 0) scale(-1 1)"><g clip-path="url(#cb)"><use href="#hb"/></g></g></svg>
<svg x="1465.0" y="245.8" width="552.8" height="1711.2" viewBox="0 0 552.8 1711.2" overflow="hidden"><rect width="552.8" height="1711.2" fill="#85151b"/><g clip-path="url(#cc)"><g id="hc" filter="url(#fc)"><g transform="translate(196.4 0)"><g style="--w:436"><rect width="436" y="1744.9" height="35.2" fill="#000000"/><rect width="436" y="1710.7" height="35.2" fill="#000000"/><rect width="436" y="1676.5" height="35.2" fill="#000000"/><rect width="436" y="1642.3" height="35.2" fill="#000000"/><rect width="436" y="1608.0" height="35.2" fill="#000000"/><rect width="436" y="1573.8" height="35.2" fill="#000000"/><rect width="436" y="1539.6" height="35.2" fill="#000000"/><rect width="436" y="1505.4" height="35.2" fill="#000000"/><rect width="436" y="1471.1" height="35.2" fill="#000000"/><rect width="436" y="1436.9" height="35.2" fill="#000000"/><rect width="436" y="1402.7" height="35.2" fill="#000000"/><rect width="436" y="1368.5" height="35.2" fill="#000000"/><rect width="436" y="1334.2" height="35.2" fill="#000000"/><rect width="436" y="1300.0" height="35.2" fill="#000000"/><rect width="436" y="1265.8" height="35.2" fill="#000000"/><rect width="436" y="1231.6" height="35.2" fill="#000000"/><rect width="436" y="1197.3" height="35.2" fill="#000000"/><rect width="436" y="1163.1" height="35.2" fill="#000000"/><rect width="436" y="1128.9" height="35.2" fill="#000000"/><rect width="436" y="1094.7" height="35.2" fill="#000000"/><rect width="436" y="1060.4" height="35.2" fill="#000000"/><rect width="436" y="1026.2" height="35.2" fill="#000000"/><rect width="436" y="992.0" height="35.2" fill="#000000"/><rect width="436" y="957.8" height="35.2" fill="#000000"/><rect width="436" y="923.5" height="35.2" fill="#000000"/><rect width="436" y="889.3" height="35.2" fill="#000000"/><rect width="436" y="855.1" height="35.2" fill="#000000"/><rect width="436" y="820.9" height="35.2" fill="#000000"/><rect width="436" y="786.7" height="35.2" fill="#000000"/><rect width="436" y="752.4" height="35.2" fill="#000000"/><rect width="436" y="718.2" height="35.2" fill="#000000"/><rect width="436" y="684.0" height="35.2" fill="#000000"/><rect width="436" y="649.8" height="35.2" fill="#000000"/><rect width="436" y="615.5" height="35.2" fill="#000000"/><rect width="436" y="581.3" height="35.2" fill="url(#c0)"/><rect width="436" y="547.1" height="35.2" fill="url(#c1)"/><rect width="436" y="512.9" height="35.2" fill="url(#c2)"/><rect width="436" y="478.6" height="35.2" fill="url(#c3)"/><rect width="436" y="444.4" height="35.2" fill="url(#c4)"/><rect width="436" y="410.2" height="35.2" fill="url(#c5)"/><rect width="436" y="376.0" height="35.2" fill="url(#c6)"/><rect width="436" y="341.7" height="35.2" fill="url(#c7)"/><rect width="436" y="307.5" height="35.2" fill="url(#c8)"/><rect width="436" y="273.3" height="35.2" fill="url(#c9)"/><rect width="436" y="239.1" height="35.2" fill="url(#c10)"/><rect width="436" y="204.8" height="35.2" fill="url(#c11)"/><rect width="436" y="170.6" height="35.2" fill="url(#c12)"/><rect width="436" y="136.4" height="35.2" fill="url(#c13)"/><rect width="436" y="102.2" height="35.2" fill="url(#c14)"/><rect width="436" y="67.9" height="35.2" fill="url(#c15)"/><rect width="436" y="33.7" height="35.2" fill="url(#c16)"/><rect width="436" y="-0.5" height="35.2" fill="url(#c17)"/><rect width="436" y="-34.7" height="35.2" fill="url(#c18)"/><rect width="436" y="-68.9" height="35.2" fill="url(#c18)"/><rect width="436" y="-103.2" height="35.2" fill="url(#c18)"/><ellipse cx="262.4" cy="640.0" rx="8.6" ry="39.2" fill="#fff" fill-opacity="0.16"/><ellipse cx="273.5" cy="691.3" rx="8.6" ry="39.2" fill="#fff" fill-opacity="0.15"/><ellipse cx="245.8" cy="787.2" rx="5.9" ry="46.1" fill="#fff" fill-opacity="0.06"/><ellipse cx="240.3" cy="889.8" rx="5.9" ry="56.3" fill="#fff" fill-opacity="0.07"/><ellipse cx="229.3" cy="1026.7" rx="5.9" ry="56.3" fill="#fff" fill-opacity="0.06"/><ellipse cx="209.9" cy="1180.7" rx="5.9" ry="32.4" fill="#fff" fill-opacity="0.11"/><ellipse cx="196.1" cy="1411.7" rx="5.3" ry="13.6" fill="#fff" fill-opacity="0.15"/></g></g></g></g><g transform="translate(552.8 0) scale(-1 1)"><g clip-path="url(#cc)"><use href="#hc"/></g></g></svg>
<g stroke="#0d0d0d" fill="none">
<rect x="358.0" y="245.8" width="1659.8" height="1711.2" stroke-width="4.4"/>
<line x1="911.0" x2="911.0" y1="245.8" y2="1957.0" stroke-width="4.2"/>
<line x1="1465.0" x2="1465.0" y1="245.8" y2="1957.0" stroke-width="4.2"/>
<path d="M415.1 245.8 v11 M415.1 1957.0 v-11 M524.8 245.8 v11 M524.8 1957.0 v-11 M634.5 245.8 v11 M634.5 1957.0 v-11 M744.2 245.8 v11 M744.2 1957.0 v-11 M853.9 245.8 v11 M853.9 1957.0 v-11 M968.2 245.8 v11 M968.2 1957.0 v-11 M1078.1 245.8 v11 M1078.1 1957.0 v-11 M1188.0 245.8 v11 M1188.0 1957.0 v-11 M1297.9 245.8 v11 M1297.9 1957.0 v-11 M1407.8 245.8 v11 M1407.8 1957.0 v-11 M1522.0 245.8 v11 M1522.0 1957.0 v-11 M1631.7 245.8 v11 M1631.7 1957.0 v-11 M1741.4 245.8 v11 M1741.4 1957.0 v-11 M1851.1 245.8 v11 M1851.1 1957.0 v-11 M1960.8 245.8 v11 M1960.8 1957.0 v-11 M358.0 1614.8 h12 M2017.8 1614.8 h-12 M902.0 1614.8 h18 M1456.0 1614.8 h18 M358.0 1272.5 h12 M2017.8 1272.5 h-12 M902.0 1272.5 h18 M1456.0 1272.5 h18 M358.0 930.3 h12 M2017.8 930.3 h-12 M902.0 930.3 h18 M1456.0 930.3 h18 M358.0 588.0 h12 M2017.8 588.0 h-12 M902.0 588.0 h18 M1456.0 588.0 h18" stroke-width="3.6"/>
<rect x="358.0" y="170.0" width="1659.6" height="54.3" fill="url(#cbg)" stroke-width="4.6"/>
<path d="M1182.8 170.0 v12 M2003.6 170.0 v12" stroke-width="4"/>
</g>
<svg x="453.0" y="2514.6" width="520.0" height="1613.0" viewBox="0 0 520.0 1613.0" overflow="hidden"><rect width="520.0" height="1613.0" fill="#85151b"/><g clip-path="url(#cd)"><g id="hd" filter="url(#fd)"><g transform="translate(180.0 0)"><g style="--w:420"><rect width="420" y="1644.8" height="33.3" fill="#000000"/><rect width="420" y="1612.5" height="33.3" fill="#000000"/><rect width="420" y="1580.2" height="33.3" fill="#000000"/><rect width="420" y="1548.0" height="33.3" fill="url(#d0)"/><rect width="420" y="1515.7" height="33.3" fill="url(#d1)"/><rect width="420" y="1483.5" height="33.3" fill="url(#d2)"/><rect width="420" y="1451.2" height="33.3" fill="url(#d3)"/><rect width="420" y="1418.9" height="33.3" fill="url(#d4)"/><rect width="420" y="1386.7" height="33.3" fill="url(#d5)"/><rect width="420" y="1354.4" height="33.3" fill="url(#d6)"/><rect width="420" y="1322.2" height="33.3" fill="url(#d7)"/><rect width="420" y="1289.9" height="33.3" fill="url(#d8)"/><rect width="420" y="1257.6" height="33.3" fill="url(#d9)"/><rect width="420" y="1225.4" height="33.3" fill="url(#d10)"/><rect width="420" y="1193.1" height="33.3" fill="url(#d11)"/><rect width="420" y="1160.9" height="33.3" fill="url(#d12)"/><rect width="420" y="1128.6" height="33.3" fill="url(#d13)"/><rect width="420" y="1096.3" height="33.3" fill="url(#d14)"/><rect width="420" y="1064.1" height="33.3" fill="url(#d15)"/><rect width="420" y="1031.8" height="33.3" fill="url(#d16)"/><rect width="420" y="999.6" height="33.3" fill="url(#d17)"/><rect width="420" y="967.3" height="33.3" fill="url(#d18)"/><rect width="420" y="935.0" height="33.3" fill="url(#d19)"/><rect width="420" y="902.8" height="33.3" fill="url(#d20)"/><rect width="420" y="870.5" height="33.3" fill="url(#d21)"/><rect width="420" y="838.3" height="33.3" fill="url(#d22)"/><rect width="420" y="806.0" height="33.3" fill="url(#d23)"/><rect width="420" y="773.7" height="33.3" fill="url(#d24)"/><rect width="420" y="741.5" height="33.3" fill="url(#d25)"/><rect width="420" y="709.2" height="33.3" fill="url(#d26)"/><rect width="420" y="677.0" height="33.3" fill="url(#d27)"/><rect width="420" y="644.7" height="33.3" fill="url(#d28)"/><rect width="420" y="612.4" height="33.3" fill="url(#d29)"/><rect width="420" y="580.2" height="33.3" fill="url(#d30)"/><rect width="420" y="547.9" height="33.3" fill="url(#d31)"/><rect width="420" y="515.7" height="33.3" fill="url(#d32)"/><rect width="420" y="483.4" height="33.3" fill="url(#d33)"/><rect width="420" y="451.1" height="33.3" fill="url(#d34)"/><rect width="420" y="418.9" height="33.3" fill="url(#d35)"/><rect width="420" y="386.6" height="33.3" fill="url(#d36)"/><rect width="420" y="354.4" height="33.3" fill="url(#d37)"/><rect width="420" y="322.1" height="33.3" fill="#000000"/><rect width="420" y="289.8" height="33.3" fill="#000000"/><rect width="420" y="257.6" height="33.3" fill="#000000"/><rect width="420" y="225.3" height="33.3" fill="#000000"/><rect width="420" y="193.1" height="33.3" fill="#000000"/><rect width="420" y="160.8" height="33.3" fill="#000000"/><rect width="420" y="128.5" height="33.3" fill="#000000"/><rect width="420" y="96.3" height="33.3" fill="#000000"/><rect width="420" y="64.0" height="33.3" fill="#000000"/><rect width="420" y="31.8" height="33.3" fill="#000000"/><rect width="420" y="-0.5" height="33.3" fill="#000000"/><rect width="420" y="-32.8" height="33.3" fill="#000000"/><rect width="420" y="-65.0" height="33.3" fill="#000000"/><rect width="420" y="-97.3" height="33.3" fill="#000000"/><ellipse cx="100.8" cy="129.0" rx="4.6" ry="21.1" fill="#fff" fill-opacity="0.06"/></g></g></g></g><g transform="translate(520.0 0) scale(-1 1)"><g clip-path="url(#cd)"><use href="#hd"/></g></g><rect x="258.2" y="451.6" width="3.5" height="677.5" fill="#c81e24" fill-opacity="0.70" filter="url(#sb)"/></svg>
<svg x="973.0" y="2514.6" width="521.5" height="1613.0" viewBox="0 0 521.5 1613.0" overflow="hidden"><rect width="521.5" height="1613.0" fill="#85151b"/><g clip-path="url(#ce)"><g id="he" filter="url(#fe)"><g transform="translate(180.8 0)"><g style="--w:420"><rect width="420" y="1644.8" height="33.3" fill="#000000"/><rect width="420" y="1612.5" height="33.3" fill="#000000"/><rect width="420" y="1580.2" height="33.3" fill="url(#e0)"/><rect width="420" y="1548.0" height="33.3" fill="url(#e1)"/><rect width="420" y="1515.7" height="33.3" fill="url(#e2)"/><rect width="420" y="1483.5" height="33.3" fill="url(#e3)"/><rect width="420" y="1451.2" height="33.3" fill="url(#e4)"/><rect width="420" y="1418.9" height="33.3" fill="url(#e5)"/><rect width="420" y="1386.7" height="33.3" fill="url(#e6)"/><rect width="420" y="1354.4" height="33.3" fill="url(#e7)"/><rect width="420" y="1322.2" height="33.3" fill="url(#e8)"/><rect width="420" y="1289.9" height="33.3" fill="url(#e9)"/><rect width="420" y="1257.6" height="33.3" fill="url(#e10)"/><rect width="420" y="1225.4" height="33.3" fill="url(#e11)"/><rect width="420" y="1193.1" height="33.3" fill="url(#e12)"/><rect width="420" y="1160.9" height="33.3" fill="url(#e13)"/><rect width="420" y="1128.6" height="33.3" fill="url(#e14)"/><rect width="420" y="1096.3" height="33.3" fill="url(#e15)"/><rect width="420" y="1064.1" height="33.3" fill="url(#e16)"/><rect width="420" y="1031.8" height="33.3" fill="url(#e17)"/><rect width="420" y="999.6" height="33.3" fill="url(#e18)"/><rect width="420" y="967.3" height="33.3" fill="url(#e19)"/><rect width="420" y="935.0" height="33.3" fill="url(#e20)"/><rect width="420" y="902.8" height="33.3" fill="url(#e21)"/><rect width="420" y="870.5" height="33.3" fill="url(#e22)"/><rect width="420" y="838.3" height="33.3" fill="url(#e23)"/><rect width="420" y="806.0" height="33.3" fill="url(#e24)"/><rect width="420" y="773.7" height="33.3" fill="url(#e25)"/><rect width="420" y="741.5" height="33.3" fill="url(#e26)"/><rect width="420" y="709.2" height="33.3" fill="url(#e27)"/><rect width="420" y="677.0" height="33.3" fill="url(#e28)"/><rect width="420" y="644.7" height="33.3" fill="url(#e29)"/><rect width="420" y="612.4" height="33.3" fill="url(#e30)"/><rect width="420" y="580.2" height="33.3" fill="url(#e31)"/><rect width="420" y="547.9" height="33.3" fill="url(#e32)"/><rect width="420" y="515.7" height="33.3" fill="url(#e33)"/><rect width="420" y="483.4" height="33.3" fill="url(#e34)"/><rect width="420" y="451.1" height="33.3" fill="url(#e35)"/><rect width="420" y="418.9" height="33.3" fill="url(#e36)"/><rect width="420" y="386.6" height="33.3" fill="url(#e37)"/><rect width="420" y="354.4" height="33.3" fill="url(#e38)"/><rect width="420" y="322.1" height="33.3" fill="url(#e39)"/><rect width="420" y="289.8" height="33.3" fill="url(#e40)"/><rect width="420" y="257.6" height="33.3" fill="url(#e41)"/><rect width="420" y="225.3" height="33.3" fill="url(#e42)"/><rect width="420" y="193.1" height="33.3" fill="url(#e43)"/><rect width="420" y="160.8" height="33.3" fill="#000000"/><rect width="420" y="128.5" height="33.3" fill="#000000"/><rect width="420" y="96.3" height="33.3" fill="#000000"/><rect width="420" y="64.0" height="33.3" fill="#000000"/><rect width="420" y="31.8" height="33.3" fill="#000000"/><rect width="420" y="-0.5" height="33.3" fill="#000000"/><rect width="420" y="-32.8" height="33.3" fill="#000000"/><rect width="420" y="-65.0" height="33.3" fill="#000000"/><rect width="420" y="-97.3" height="33.3" fill="#000000"/><ellipse cx="100.9" cy="96.8" rx="4.6" ry="27.6" fill="#fff" fill-opacity="0.10"/><ellipse cx="82.6" cy="161.3" rx="4.1" ry="17.9" fill="#fff" fill-opacity="0.06"/><ellipse cx="106.1" cy="161.3" rx="4.1" ry="17.9" fill="#fff" fill-opacity="0.06"/><ellipse cx="153.0" cy="1319.4" rx="8.3" ry="21.1" fill="#fff" fill-opacity="0.25"/></g></g></g></g><g transform="translate(521.5 0) scale(-1 1)"><g clip-path="url(#ce)"><use href="#he"/></g></g><rect x="259.0" y="322.6" width="3.5" height="742.0" fill="#d02a24" fill-opacity="0.60" filter="url(#sb)"/></svg>
<svg x="1494.5" y="2514.6" width="520.7" height="1613.0" viewBox="0 0 520.7 1613.0" overflow="hidden"><rect width="520.7" height="1613.0" fill="#85151b"/><g clip-path="url(#cf)"><g id="hf" filter="url(#ff)"><g transform="translate(180.4 0)"><g style="--w:420"><rect width="420" y="1644.8" height="33.3" fill="#000000"/><rect width="420" y="1612.5" height="33.3" fill="#000000"/><rect width="420" y="1580.2" height="33.3" fill="#000000"/><rect width="420" y="1548.0" height="33.3" fill="url(#f0)"/><rect width="420" y="1515.7" height="33.3" fill="url(#f1)"/><rect width="420" y="1483.5" height="33.3" fill="url(#f2)"/><rect width="420" y="1451.2" height="33.3" fill="url(#f3)"/><rect width="420" y="1418.9" height="33.3" fill="url(#f4)"/><rect width="420" y="1386.7" height="33.3" fill="url(#f5)"/><rect width="420" y="1354.4" height="33.3" fill="url(#f6)"/><rect width="420" y="1322.2" height="33.3" fill="url(#f7)"/><rect width="420" y="1289.9" height="33.3" fill="url(#f8)"/><rect width="420" y="1257.6" height="33.3" fill="url(#f9)"/><rect width="420" y="1225.4" height="33.3" fill="url(#f10)"/><rect width="420" y="1193.1" height="33.3" fill="url(#f11)"/><rect width="420" y="1160.9" height="33.3" fill="url(#f12)"/><rect width="420" y="1128.6" height="33.3" fill="url(#f13)"/><rect width="420" y="1096.3" height="33.3" fill="url(#f14)"/><rect width="420" y="1064.1" height="33.3" fill="url(#f15)"/><rect width="420" y="1031.8" height="33.3" fill="url(#f16)"/><rect width="420" y="999.6" height="33.3" fill="url(#f17)"/><rect width="420" y="967.3" height="33.3" fill="url(#f18)"/><rect width="420" y="935.0" height="33.3" fill="url(#f19)"/><rect width="420" y="902.8" height="33.3" fill="url(#f20)"/><rect width="420" y="870.5" height="33.3" fill="url(#f21)"/><rect width="420" y="838.3" height="33.3" fill="url(#f22)"/><rect width="420" y="806.0" height="33.3" fill="url(#f23)"/><rect width="420" y="773.7" height="33.3" fill="url(#f24)"/><rect width="420" y="741.5" height="33.3" fill="url(#f25)"/><rect width="420" y="709.2" height="33.3" fill="url(#f26)"/><rect width="420" y="677.0" height="33.3" fill="url(#f27)"/><rect width="420" y="644.7" height="33.3" fill="url(#f28)"/><rect width="420" y="612.4" height="33.3" fill="url(#f29)"/><rect width="420" y="580.2" height="33.3" fill="url(#f30)"/><rect width="420" y="547.9" height="33.3" fill="url(#f31)"/><rect width="420" y="515.7" height="33.3" fill="url(#f32)"/><rect width="420" y="483.4" height="33.3" fill="url(#f33)"/><rect width="420" y="451.1" height="33.3" fill="url(#f34)"/><rect width="420" y="418.9" height="33.3" fill="url(#f35)"/><rect width="420" y="386.6" height="33.3" fill="url(#f36)"/><rect width="420" y="354.4" height="33.3" fill="url(#f37)"/><rect width="420" y="322.1" height="33.3" fill="url(#f38)"/><rect width="420" y="289.8" height="33.3" fill="url(#f39)"/><rect width="420" y="257.6" height="33.3" fill="url(#f40)"/><rect width="420" y="225.3" height="33.3" fill="url(#f41)"/><rect width="420" y="193.1" height="33.3" fill="url(#f42)"/><rect width="420" y="160.8" height="33.3" fill="url(#f43)"/><rect width="420" y="128.5" height="33.3" fill="url(#f44)"/><rect width="420" y="96.3" height="33.3" fill="url(#f45)"/><rect width="420" y="64.0" height="33.3" fill="url(#f46)"/><rect width="420" y="31.8" height="33.3" fill="url(#f47)"/><rect width="420" y="-0.5" height="33.3" fill="url(#f48)"/><rect width="420" y="-32.8" height="33.3" fill="url(#f49)"/><rect width="420" y="-65.0" height="33.3" fill="url(#f49)"/><rect width="420" y="-97.3" height="33.3" fill="url(#f49)"/></g></g></g></g><g transform="translate(520.7 0) scale(-1 1)"><g clip-path="url(#cf)"><use href="#hf"/></g></g><rect x="258.9" y="-32.3" width="3.0" height="1193.6" fill="#a81a1f" fill-opacity="0.95" filter="url(#sb)"/></svg>
<g stroke="#0d0d0d" fill="none">
<rect x="453.0" y="2514.6" width="1562.2" height="1613.0" stroke-width="4.4"/>
<line x1="973.0" x2="973.0" y1="2514.6" y2="4127.6" stroke-width="4.2"/>
<line x1="1494.5" x2="1494.5" y1="2514.6" y2="4127.6" stroke-width="4.2"/>
<path d="M505.0 2514.6 v11 M505.0 4127.6 v-11 M609.0 2514.6 v11 M609.0 4127.6 v-11 M713.0 2514.6 v11 M713.0 4127.6 v-11 M817.0 2514.6 v11 M817.0 4127.6 v-11 M921.0 2514.6 v11 M921.0 4127.6 v-11 M1025.2 2514.6 v11 M1025.2 4127.6 v-11 M1129.5 2514.6 v11 M1129.5 4127.6 v-11 M1233.8 2514.6 v11 M1233.8 4127.6 v-11 M1338.0 2514.6 v11 M1338.0 4127.6 v-11 M1442.3 2514.6 v11 M1442.3 4127.6 v-11 M1546.6 2514.6 v11 M1546.6 4127.6 v-11 M1650.7 2514.6 v11 M1650.7 4127.6 v-11 M1754.8 2514.6 v11 M1754.8 4127.6 v-11 M1859.0 2514.6 v11 M1859.0 4127.6 v-11 M1963.1 2514.6 v11 M1963.1 4127.6 v-11 M453.0 3805.0 h12 M2015.2 3805.0 h-12 M964.0 3805.0 h18 M1485.5 3805.0 h18 M453.0 3482.4 h12 M2015.2 3482.4 h-12 M964.0 3482.4 h18 M1485.5 3482.4 h18 M453.0 3159.8 h12 M2015.2 3159.8 h-12 M964.0 3159.8 h18 M1485.5 3159.8 h18 M453.0 2837.2 h12 M2015.2 2837.2 h-12 M964.0 2837.2 h18 M1485.5 2837.2 h18" stroke-width="3.6"/>
<rect x="453.0" y="2443.7" width="1562.2" height="51.3" fill="url(#cbg)" stroke-width="4.6"/>
<path d="M1229.1 2443.7 v12 M2001.2 2443.7 v12" stroke-width="4"/>
</g>
<text x="315.4" y="118.3" class="cb" text-anchor="start" style="letter-spacing:1.5px">0.0</text>
<text x="1015.0" y="118.3" class="cb" text-anchor="start" style="letter-spacing:2.5px">0.003</text>
<text x="1816.0" y="118.3" class="cb" text-anchor="start" style="letter-spacing:3.5px">0.006</text>
<text x="388.2" y="2384.5" class="cb" text-anchor="start" style="letter-spacing:1px">0.0</text>
<text x="1099.0" y="2368.7" class="cb" text-anchor="start" style="letter-spacing:2px">0.01</text>
<text x="1815.7" y="2383.4" class="cb" text-anchor="start" style="letter-spacing:2px">0.02</text>
<text x="58.0" y="213.0" class="it" text-anchor="start" style="font-size:96px"><tspan>O</tspan><tspan dx="12">H</tspan></text>
<text x="55.0" y="2478.0" class="it" text-anchor="start" style="font-size:110px;stroke:#0a0a0a;stroke-width:1.5px"><tspan>C</tspan><tspan dx="7">H</tspan><tspan dy="22" style="font-size:78px;font-style:normal" dx="2">2</tspan><tspan dy="-22" dx="4">O</tspan></text>
<text x="320.0" y="1975.2" class="tk" text-anchor="end" style="font-size:81px;letter-spacing:5px">0</text>
<text x="320.0" y="1633.0" class="tk" text-anchor="end" style="font-size:81px;letter-spacing:5px">10</text>
<text x="320.0" y="1290.7" class="tk" text-anchor="end" style="font-size:81px;letter-spacing:5px">20</text>
<text x="320.0" y="948.5" class="tk" text-anchor="end" style="font-size:81px;letter-spacing:5px">30</text>
<text x="320.0" y="606.3" class="tk" text-anchor="end" style="font-size:81px;letter-spacing:5px">40</text>
<text x="320.0" y="264.0" class="tk" text-anchor="end" style="font-size:81px;letter-spacing:5px">50</text>
<text x="415.0" y="4144.7" class="tk" text-anchor="end" style="font-size:76px;letter-spacing:5px">0</text>
<text x="415.0" y="3822.1" class="tk" text-anchor="end" style="font-size:76px;letter-spacing:5px">10</text>
<text x="415.0" y="3499.5" class="tk" text-anchor="end" style="font-size:76px;letter-spacing:5px">20</text>
<text x="415.0" y="3176.9" class="tk" text-anchor="end" style="font-size:76px;letter-spacing:5px">30</text>
<text x="415.0" y="2854.3" class="tk" text-anchor="end" style="font-size:76px;letter-spacing:5px">40</text>
<text x="415.0" y="2531.7" class="tk" text-anchor="end" style="font-size:76px;letter-spacing:5px">50</text>
<text transform="translate(385.1 2068.0) scale(1.36 1)" class="tk" text-anchor="middle" style="font-size:84px">−</text>
<text x="444.4" y="2068.0" class="tk" text-anchor="middle" style="font-size:87px">4</text>
<text transform="translate(493.2 2068.0) scale(1.36 1)" class="tk" text-anchor="middle" style="font-size:84px">−</text>
<text x="550.8" y="2068.0" class="tk" text-anchor="middle" style="font-size:87px">2</text>
<text x="632.5" y="2056.0" class="tk" text-anchor="middle" style="font-size:85px">0</text>
<text x="742.2" y="2056.0" class="tk" text-anchor="middle" style="font-size:85px">2</text>
<text x="851.9" y="2056.0" class="tk" text-anchor="middle" style="font-size:85px">4</text>
<text transform="translate(938.2 2068.0) scale(1.36 1)" class="tk" text-anchor="middle" style="font-size:84px">−</text>
<text x="997.5" y="2068.0" class="tk" text-anchor="middle" style="font-size:87px">4</text>
<text transform="translate(1046.5 2068.0) scale(1.36 1)" class="tk" text-anchor="middle" style="font-size:84px">−</text>
<text x="1104.2" y="2068.0" class="tk" text-anchor="middle" style="font-size:87px">2</text>
<text x="1186.0" y="2056.0" class="tk" text-anchor="middle" style="font-size:85px">0</text>
<text x="1295.9" y="2056.0" class="tk" text-anchor="middle" style="font-size:85px">2</text>
<text x="1405.8" y="2056.0" class="tk" text-anchor="middle" style="font-size:85px">4</text>
<text transform="translate(1492.1 2068.0) scale(1.36 1)" class="tk" text-anchor="middle" style="font-size:84px">−</text>
<text x="1551.3" y="2068.0" class="tk" text-anchor="middle" style="font-size:87px">4</text>
<text transform="translate(1600.2 2068.0) scale(1.36 1)" class="tk" text-anchor="middle" style="font-size:84px">−</text>
<text x="1657.7" y="2068.0" class="tk" text-anchor="middle" style="font-size:87px">2</text>
<text x="1739.4" y="2056.0" class="tk" text-anchor="middle" style="font-size:85px">0</text>
<text x="1849.1" y="2056.0" class="tk" text-anchor="middle" style="font-size:85px">2</text>
<text x="1958.8" y="2056.0" class="tk" text-anchor="middle" style="font-size:85px">4</text>
<text transform="translate(476.0 4236.5) scale(1.5 1)" class="tk" text-anchor="middle" style="font-size:78px">−</text>
<text x="532.2" y="4236.5" class="tk" text-anchor="middle" style="font-size:81px">4</text>
<text transform="translate(578.4 4236.5) scale(1.5 1)" class="tk" text-anchor="middle" style="font-size:78px">−</text>
<text x="633.0" y="4236.5" class="tk" text-anchor="middle" style="font-size:81px">2</text>
<text x="711.0" y="4222.5" class="tk" text-anchor="middle" style="font-size:79px">0</text>
<text x="815.0" y="4222.5" class="tk" text-anchor="middle" style="font-size:79px">2</text>
<text x="919.0" y="4222.5" class="tk" text-anchor="middle" style="font-size:79px">4</text>
<text transform="translate(996.1 4236.5) scale(1.5 1)" class="tk" text-anchor="middle" style="font-size:78px">−</text>
<text x="1052.4" y="4236.5" class="tk" text-anchor="middle" style="font-size:81px">4</text>
<text transform="translate(1098.8 4236.5) scale(1.5 1)" class="tk" text-anchor="middle" style="font-size:78px">−</text>
<text x="1153.6" y="4236.5" class="tk" text-anchor="middle" style="font-size:81px">2</text>
<text x="1231.8" y="4222.5" class="tk" text-anchor="middle" style="font-size:79px">0</text>
<text x="1336.0" y="4222.5" class="tk" text-anchor="middle" style="font-size:79px">2</text>
<text x="1440.3" y="4222.5" class="tk" text-anchor="middle" style="font-size:79px">4</text>
<text transform="translate(1517.5 4236.5) scale(1.5 1)" class="tk" text-anchor="middle" style="font-size:78px">−</text>
<text x="1573.8" y="4236.5" class="tk" text-anchor="middle" style="font-size:81px">4</text>
<text transform="translate(1620.1 4236.5) scale(1.5 1)" class="tk" text-anchor="middle" style="font-size:78px">−</text>
<text x="1674.8" y="4236.5" class="tk" text-anchor="middle" style="font-size:81px">2</text>
<text x="1752.8" y="4222.5" class="tk" text-anchor="middle" style="font-size:79px">0</text>
<text x="1857.0" y="4222.5" class="tk" text-anchor="middle" style="font-size:79px">2</text>
<text x="1961.1" y="4222.5" class="tk" text-anchor="middle" style="font-size:79px">4</text>
<text transform="translate(1073.0 2169.5) scale(1)"><tspan x="-2" class="it" style="font-size:94px">r</tspan><tspan x="54" dy="20" style="font-size:122px">/</tspan><tspan x="103" dy="-20" class="it" style="font-size:94px">D</tspan></text>
<text transform="translate(1128.0 4326.5) scale(0.945)"><tspan x="-2" class="it" style="font-size:94px">r</tspan><tspan x="54" dy="20" style="font-size:122px">/</tspan><tspan x="103" dy="-20" class="it" style="font-size:94px">D</tspan></text>
<text transform="translate(174.6 1188.0) rotate(-90) scale(1)"><tspan x="-2" class="it" style="font-size:94px">z</tspan><tspan x="54" dy="20" style="font-size:122px">/</tspan><tspan x="103" dy="-20" class="it" style="font-size:94px">D</tspan></text>
<text transform="translate(280.6 3404.5) rotate(-90) scale(0.945)"><tspan x="-2" class="it" style="font-size:94px">z</tspan><tspan x="54" dy="20" style="font-size:122px">/</tspan><tspan x="103" dy="-20" class="it" style="font-size:94px">D</tspan></text>
</svg></body></html>
